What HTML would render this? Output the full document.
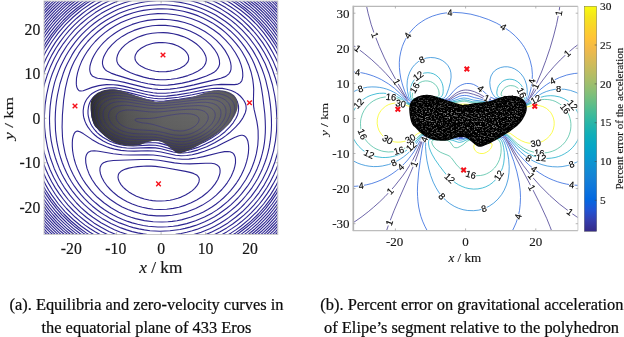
<!DOCTYPE html>
<html><head><meta charset="utf-8"><title>Figure</title><style>html,body{margin:0;padding:0;background:#fff}svg{display:block}</style></head><body>
<svg width="624" height="337" viewBox="0 0 624 337">
<defs>
<clipPath id="cl"><rect x="44.0" y="1.0" width="233.8" height="233.5"/></clipPath>
<clipPath id="cr"><rect x="353.3" y="6.3" width="224.6" height="224.3"/></clipPath>
<clipPath id="cb"><path d="M91.8,118.1 91.5,116.5 91.2,114.7 91,112.8 90.7,110.7 90.5,108.5 90.5,106.4 90.5,104.5 90.8,102.7 91.1,101.1 91.7,99.6 92.3,98.3 93.1,97 94.1,95.9 95.1,94.9 96.2,93.9 97.4,93.1 98.8,92.3 100.1,91.7 101.6,91 103.1,90.5 104.7,90.1 106.3,89.7 107.9,89.4 109.5,89.3 111.1,89.2 112.7,89.2 114.3,89.3 115.9,89.5 117.5,89.8 119.1,90.2 120.7,90.6 122.3,91 123.9,91.5 125.5,92.1 127.1,92.6 128.7,93.2 130.3,93.7 131.9,94.3 133.5,94.8 135.1,95.4 136.7,95.9 138.3,96.4 139.9,96.9 141.5,97.5 143.1,98 144.7,98.4 146.3,98.9 147.9,99.4 149.6,99.9 151.1,100.3 152.6,100.8 153.9,101.2 155.2,101.7 156.4,101.9 157.5,102 158.5,101.9 159.5,101.6 160.3,101.4 161.1,101.4 161.7,101.4 162.2,101.6 162.7,101.6 163.3,101.6 163.8,101.6 164.3,101.4 165,101.2 165.9,101 167,100.8 168.3,100.4 169.9,100.2 171.6,99.9 173.6,99.7 175.9,99.6 178.1,99.3 180.3,99.1 182.6,98.8 184.8,98.5 187,98.1 189.1,97.7 191.1,97.3 193,96.8 194.9,96.3 196.6,95.7 198.3,95.1 199.9,94.5 201.5,93.9 203.1,93.3 204.7,92.8 206.3,92.3 207.9,91.9 209.5,91.5 211.1,91.1 212.7,90.8 214.3,90.5 215.9,90.4 217.5,90.3 219.1,90.3 220.7,90.4 222.3,90.5 223.9,90.8 225.5,91.1 227,91.5 228.5,92 229.8,92.6 231.2,93.2 232.3,94 233.4,94.8 234.3,95.6 235.1,96.6 235.8,97.6 236.4,98.7 236.9,99.9 237.3,101.3 237.6,102.6 237.7,103.9 237.8,105.3 237.7,106.8 237.5,108.2 237.2,109.5 236.8,110.8 236.3,112.1 235.7,113.5 235,114.9 234.2,116.5 233.2,118.1 232.3,119.6 231.4,120.9 230.5,122.2 229.6,123.3 228.5,124.5 227.2,125.8 225.8,127.1 224,128.4 222.4,129.8 220.7,131 219.1,132.3 217.5,133.4 215.9,134.6 214.3,135.7 212.7,136.7 211.1,137.7 209.5,138.7 207.9,139.7 206.3,140.6 204.7,141.6 203.1,142.5 201.5,143.5 199.9,144.4 198.3,145.4 196.7,146.3 195.1,147.2 193.5,148 191.9,148.8 190.3,149.6 188.7,150.3 187.1,151 185.5,151.6 184.1,152.2 182.8,152.6 181.6,153 180.7,153.2 179.7,153.3 178.8,153.3 178,153.2 177.2,153 176.4,152.6 175.6,152.2 174.8,151.6 174,151 173.2,150.3 172.3,149.6 171.4,148.8 170.4,148 169.5,147.2 168.5,146.4 167.5,145.6 166.6,144.8 165.6,144.1 164.6,143.4 163.5,142.7 162.5,142.2 161.3,141.7 160,141.3 158.5,141 156.9,140.9 155.3,140.8 153.7,140.9 152.1,141.1 150.5,141.4 149,141.8 147.5,142.2 146.2,142.6 144.9,143.1 143.6,143.6 142.3,144 141.1,144.4 139.8,144.9 138.3,145.2 136.7,145.4 135,145.6 133,145.7 131.1,145.7 129.2,145.7 127.3,145.5 125.4,145.4 123.5,145.1 121.8,144.8 120.1,144.4 118.4,143.9 116.8,143.4 115.2,142.7 113.6,142 112,141.2 110.4,140.3 108.8,139.2 107.2,138.1 105.6,136.8 104.1,135.5 102.6,134.1 101.3,132.7 100,131.3 98.8,130 97.8,129 96.8,128.1 95.9,127.5 95.1,126.6 94.4,125.5 93.7,124.2 93.2,122.8 92.7,121.2 92.2,119.7Z"/></clipPath>
<linearGradient id="gb" x1="0" y1="0" x2="1" y2="0"><stop offset="0" stop-color="#2c2c2c"/><stop offset="0.08" stop-color="#424242"/><stop offset="0.25" stop-color="#585858"/><stop offset="0.5" stop-color="#656565"/><stop offset="0.8" stop-color="#6a6a6a"/><stop offset="0.95" stop-color="#626262"/><stop offset="1" stop-color="#575757"/></linearGradient>
<linearGradient id="gv" x1="0" y1="0" x2="0" y2="1"><stop offset="0" stop-color="#000" stop-opacity="0.1"/><stop offset="0.2" stop-color="#000" stop-opacity="0"/><stop offset="0.6" stop-color="#000" stop-opacity="0.06"/><stop offset="1" stop-color="#000" stop-opacity="0.42"/></linearGradient>
<linearGradient id="par" x1="0" y1="0" x2="0" y2="1"><stop offset="0.0000" stop-color="#f9fb0e"/><stop offset="0.0476" stop-color="#f5e41d"/><stop offset="0.0952" stop-color="#fad32a"/><stop offset="0.1429" stop-color="#ffc337"/><stop offset="0.1905" stop-color="#f1b94a"/><stop offset="0.2381" stop-color="#d9ba56"/><stop offset="0.2857" stop-color="#c0bc60"/><stop offset="0.3333" stop-color="#a5be6b"/><stop offset="0.3810" stop-color="#87bf77"/><stop offset="0.4286" stop-color="#65be86"/><stop offset="0.4762" stop-color="#42bb98"/><stop offset="0.5238" stop-color="#25b5a9"/><stop offset="0.5714" stop-color="#0faeb9"/><stop offset="0.6190" stop-color="#06a7c6"/><stop offset="0.6667" stop-color="#079ccf"/><stop offset="0.7143" stop-color="#108ed2"/><stop offset="0.7619" stop-color="#1481d6"/><stop offset="0.8095" stop-color="#0d75dc"/><stop offset="0.8571" stop-color="#0268e1"/><stop offset="0.9048" stop-color="#2053d4"/><stop offset="0.9524" stop-color="#353dad"/><stop offset="1.0000" stop-color="#352a87"/></linearGradient>
<pattern id="mesh" width="1.9" height="2.3" patternUnits="userSpaceOnUse" patternTransform="rotate(-38)"><rect x="0.5" y="0.6" width="0.8" height="1.0" fill="#fff" fill-opacity="0.75"/></pattern>
<filter id="bl" x="-20%%" y="-20%%" width="140%%" height="140%%"><feGaussianBlur stdDeviation="3.2"/></filter>
<mask id="mm" maskUnits="userSpaceOnUse" x="380" y="60" width="180" height="110"><g filter="url(#bl)"><path d="M411,118.3 410.7,117 410.5,115.6 410.3,114.1 410.1,112.5 410,110.7 409.9,109.1 410,107.5 410.2,106.2 410.4,104.9 410.9,103.7 411.4,102.6 412,101.7 412.8,100.8 413.6,100 414.5,99.2 415.4,98.6 416.4,98 417.5,97.4 418.7,97 419.9,96.6 421.1,96.2 422.4,95.9 423.7,95.7 424.9,95.6 426.2,95.5 427.4,95.5 428.7,95.6 430,95.8 431.2,96 432.5,96.3 433.8,96.6 435,97 436.3,97.4 437.5,97.8 438.8,98.2 440.1,98.6 441.3,99.1 442.6,99.5 443.8,100 445.1,100.4 446.4,100.8 447.6,101.2 448.9,101.6 450.1,102 451.4,102.4 452.7,102.8 453.9,103.2 455.2,103.6 456.5,103.9 457.7,104.3 458.9,104.7 459.9,105 460.9,105.3 461.9,105.5 462.8,105.6 463.6,105.5 464.3,105.3 465,105.2 465.6,105.1 466.1,105.1 466.5,105.3 466.9,105.3 467.3,105.3 467.7,105.3 468.1,105.1 468.7,105 469.4,104.8 470.3,104.6 471.3,104.4 472.5,104.2 473.9,104 475.5,103.8 477.2,103.7 479,103.5 480.8,103.3 482.5,103.1 484.3,102.8 486,102.5 487.7,102.2 489.2,101.9 490.8,101.5 492.2,101.1 493.6,100.7 494.9,100.2 496.2,99.7 497.4,99.2 498.7,98.7 500,98.3 501.2,98 502.5,97.6 503.8,97.3 505,97 506.3,96.8 507.5,96.6 508.8,96.4 510.1,96.4 511.3,96.4 512.6,96.4 513.8,96.6 515.1,96.8 516.4,97 517.6,97.3 518.7,97.7 519.8,98.2 520.8,98.7 521.7,99.3 522.6,99.9 523.3,100.6 523.9,101.3 524.5,102.1 525,103 525.4,104 525.7,105 525.9,106.1 526,107.1 526.1,108.2 526,109.4 525.9,110.5 525.6,111.5 525.3,112.6 524.9,113.6 524.4,114.7 523.9,115.8 523.2,117 522.5,118.3 521.7,119.5 521,120.5 520.3,121.5 519.6,122.4 518.8,123.3 517.7,124.3 516.6,125.4 515.2,126.4 513.9,127.5 512.6,128.5 511.3,129.5 510.1,130.4 508.8,131.3 507.5,132.1 506.3,133 505,133.7 503.8,134.5 502.5,135.3 501.2,136 500,136.8 498.7,137.5 497.4,138.3 496.2,139 494.9,139.8 493.7,140.5 492.4,141.2 491.1,141.9 489.9,142.5 488.6,143.1 487.4,143.7 486.1,144.2 484.8,144.7 483.7,145.2 482.7,145.5 481.8,145.8 481,146 480.3,146.1 479.6,146.1 478.9,146 478.3,145.8 477.7,145.5 477,145.2 476.4,144.7 475.8,144.2 475.1,143.7 474.4,143.1 473.7,142.5 473,141.9 472.2,141.2 471.4,140.6 470.7,140 469.9,139.3 469.1,138.8 468.3,138.2 467.5,137.7 466.7,137.3 465.7,136.9 464.7,136.6 463.6,136.4 462.3,136.2 461,136.2 459.8,136.3 458.5,136.4 457.2,136.7 456,137 454.9,137.3 453.8,137.6 452.8,138 451.8,138.4 450.8,138.7 449.8,139.1 448.8,139.4 447.6,139.7 446.4,139.9 445,140 443.5,140 442,140 440.5,140 439,139.9 437.4,139.8 436,139.6 434.6,139.3 433.2,139 432,138.6 430.7,138.2 429.4,137.7 428.2,137.1 426.9,136.5 425.6,135.8 424.4,135 423.1,134 421.8,133 420.7,132 419.5,130.9 418.4,129.8 417.4,128.7 416.5,127.7 415.7,126.9 414.9,126.2 414.2,125.7 413.6,125 413,124.2 412.5,123.1 412,122 411.6,120.8 411.3,119.5Z" fill="#fff" stroke="#000" stroke-width="8"/></g></mask>
<filter id="sp" filterUnits="userSpaceOnUse" x="400" y="80" width="150" height="80"><feTurbulence type="fractalNoise" baseFrequency="0.55 0.8" numOctaves="2" seed="7" result="n"/><feColorMatrix in="n" type="matrix" values="0 0 0 0 1  0 0 0 0 1  0 0 0 0 1  4 0 0 0 -2.02" result="w"/><feComposite in="w" in2="SourceGraphic" operator="in"/></filter>
<radialGradient id="meshfade" cx="0.5" cy="0.5" r="0.55"><stop offset="0" stop-color="#000" stop-opacity="0"/><stop offset="0.7" stop-color="#000" stop-opacity="0.35"/><stop offset="1" stop-color="#000" stop-opacity="1"/></radialGradient>
</defs>
<rect width="624" height="337" fill="#fff"/>
<g clip-path="url(#cl)" fill="none" stroke="#2d2591" stroke-width="1.12" stroke-linejoin="round">
<path d="M276.8,238.3 281,234.0 M40.9,233.9 45.4,238.4 M281.1,2.6 275.7,-2.8 M46.5,-2.9 40.9,2.7 M274.6,237.9 281.2,231.1 M40.9,231.2 47.6,238.0 M281.2,5.5 273.5,-2.4 M48.7,-2.4 40.9,5.4 M271.2,238.4 275.9,234 281.1,228.4 M41,228.4 45.4,233.1 50.9,238.4 M281.2,8.2 275.9,2.6 270.1,-3.0 M52.1,-3 46.3,2.6 41,8.2 M269,237.9 275.4,231.8 281.2,225.4 M40.9,225.5 46.7,231.8 53.2,238.0 M281.2,11.1 274.6,3.9 267.9,-2.4 M54.3,-2.4 47.6,3.9 40.9,11.1 M265.7,238.2 273.5,230.8 280.8,222.9 M40.9,222.5 48.5,230.7 56.5,238.3 M280.8,13.7 272.6,4.8 264.6,-2.7 M57.6,-2.7 48.7,5.7 40.9,14.2 M263.4,237.6 272.4,229.2 276.8,224.5 281.1,219.5 M40.9,219.5 45.4,224.6 49.8,229.3 58.7,237.7 M281.1,17.1 276.8,12 272.1,7 267.6,2.6 262.3,-2.1 M59.9,-2.1 54.6,2.6 50.1,7 45.4,12 41,17.1 M260.1,237.8 265.7,232.9 271.2,227.5 276.5,221.8 281.2,216.2 M40.9,216.2 45.6,221.8 51,227.6 56.4,232.9 62.1,237.9 M281.2,20.4 275.7,13.9 270.3,8.2 264.6,2.6 259,-2.2 M63.2,-2.3 57.6,2.6 51.8,8.2 46.5,13.8 40.9,20.4 M256.8,238.1 263.4,232.3 269.8,226.2 275.7,219.8 281.2,213.0 M40.9,213.1 46.5,219.9 52.3,226.2 58.7,232.4 65.4,238.1 M281.2,23.6 275.7,16.8 269,9.6 262.3,3.2 255.7,-2.5 M66.5,-2.5 59.9,3.2 53.2,9.5 46.5,16.7 40.9,23.5 M253.4,238.1 261,231.8 268,225.1 275.1,217.3 281.2,209.6 M281.2,27 274.6,18.6 267.9,11.4 260.1,3.9 252.3,-2.5 M69.9,-2.5 62.1,3.9 54.3,11.3 47.6,18.6 40.9,27.0 M40.9,209.7 47,217.3 54.1,225.1 61.1,231.8 68.8,238.2 M250.1,238.1 259,230.8 266.8,223.4 274.3,215.1 281.2,206.2 M281.1,30.4 274.3,21.5 270.4,17.1 266.2,12.6 257.9,4.7 249,-2.5 M73.2,-2.5 64.3,4.7 55.9,12.6 51.7,17.1 47.9,21.5 41,30.4 M40.9,206.2 47.8,215.1 55.4,223.5 63.2,230.9 72.1,238.2 M246.8,238 252,234 256.8,230 261.2,226 265.5,221.8 269.6,217.3 273.5,212.9 277,208.4 281,202.8 M281,33.8 277,28.2 273.5,23.7 269,18.5 264.6,13.8 260.1,9.5 255.7,5.5 250.8,1.5 245.6,-2.4 M76.5,-2.4 71.4,1.5 66.5,5.4 62.1,9.4 57.6,13.8 53.2,18.5 48.7,23.7 44.4,29.3 40.9,34.1 M40.9,202.6 44.3,207.3 48.6,212.9 52.5,217.3 56.6,221.8 61,226.1 65.4,230.1 70,234 75.4,238.1 M243.4,237.9 249,233.7 254.6,229.2 260.1,224.1 264.6,219.7 269,214.8 273.4,209.5 277.6,204 281.2,198.6 M281.2,38.1 277.6,32.6 273.4,27.1 268.8,21.5 263.7,15.9 259,11.3 253.4,6.3 247.9,1.8 242.3,-2.2 M79.9,-2.2 74.3,1.8 68.8,6.3 63.2,11.3 58.5,15.9 53.3,21.5 48.7,27.1 44.6,32.6 40.9,37.9 M40.9,198.8 44.5,204 48.7,209.6 53.2,215 57.6,219.8 63,225.1 67.6,229.3 73.2,233.8 78.8,237.9 M240.1,237.6 246.6,232.9 252.2,228.4 257.9,223.3 262.8,218.4 267.9,212.9 272.4,207.3 276.8,201.4 281,195.1 M280.9,41.5 276.8,35.3 272.4,29.2 267,22.6 261.8,17.1 256.1,11.5 250.1,6.3 243.9,1.5 237.9,-2.7 M84.3,-2.7 78.3,1.5 72.1,6.3 66.1,11.5 60.3,17.1 55.2,22.6 49.8,29.1 45.4,35.2 40.9,42.0 M40.9,194.8 45.4,201.6 49.6,207.3 54.3,213 59.2,218.4 64.3,223.4 69.9,228.4 75.4,232.9 82.1,237.7 M235.6,237.9 242.3,233.4 249,228.2 255.1,222.9 261.2,216.9 266.9,210.6 272.2,204 276.9,197.3 281,190.6 M280.9,46 276.1,38.2 271.3,31.5 265.9,24.8 260.9,19.3 255.3,13.7 248.9,8.2 241.7,2.6 234.5,-2.2 M87.7,-2.2 80.5,2.6 73.2,8.2 66.9,13.7 61.2,19.3 55.4,25.8 50,32.6 45.3,39.3 40.9,46.4 M40.9,190.4 45.2,197.3 49.9,204 55.2,210.6 61,217 66.9,222.9 73.2,228.4 79.9,233.5 86.6,238.0 M231.2,238 239,233 246.5,227.3 253.4,221.4 259.8,215.1 265.8,208.4 271.2,201.4 276.3,193.9 280.9,186.2 M281.2,51.4 276.8,43.6 271.2,35.3 265.7,28.1 259,20.6 252.3,14.1 245.4,8.2 237.9,2.6 230.1,-2.3 M92.1,-2.4 84.3,2.6 76.8,8.2 69.9,14 63.2,20.5 57.3,27.1 51.2,34.9 45.9,42.6 40.9,51.1 M40.9,185.8 45.7,193.9 51,201.6 56.3,208.4 62.2,215.1 68.8,221.5 75.5,227.3 83.2,233.1 91,238.1 M227.8,237.8 235.8,232.9 243.5,227.3 251.2,220.9 258.3,214 265.2,206.2 271.1,198.4 276.1,190.6 281.1,181.7 M280.9,54.9 276,46 270.2,37.1 264.2,29.3 257.9,22.1 251.2,15.6 243.4,9 235.6,3.3 226.7,-2.1 M95.5,-2.1 86.6,3.3 78.8,9 71,15.6 63.8,22.6 57,30.4 51.1,38.2 45.4,47.1 40.9,55.3 M40.9,181.6 45.4,189.7 51,198.4 56.9,206.2 63.8,214 71,221 78.5,227.3 86.2,232.9 94.3,238.0 M222.3,238 231.2,232.9 236.2,229.6 240.8,226.2 249,219.4 256.8,211.8 263.6,204 270.2,195.1 273.5,189.9 276.3,185.1 281.2,175.1 M281,61.6 276.1,51.5 273.5,46.9 270.1,41.7 263.6,32.6 256.8,24.7 249,17 244.5,13.2 240.1,9.7 231.2,3.5 226.1,0.4 221.2,-2.3 M101,-2.3 96.1,0.4 91,3.5 82.1,9.6 77.7,13.2 73.2,17 65.4,24.7 58.5,32.6 52,41.5 48.7,46.7 45.9,51.5 40.9,61.5 M40.9,175.5 45.8,185.1 48.7,190.2 51.9,195.1 58.4,204 65.2,211.8 73.2,219.5 81,226 89.9,232.3 98.8,237.5 M176.7,129.6 172.6,128.3 170.1,127.2 166.4,125 165.3,123.9 164.7,122.8 165,121.6 166.1,120.5 168,119.4 170.7,118.3 174,117.2 178.3,116.1 184.2,115 188.9,114.5 193.4,114.4 196.7,114.9 199.6,116.1 200.7,117.2 201.1,118.3 201.2,119.4 201,120.5 200.5,121.6 198.9,123.7 197.6,125 194.3,127.2 190,129.1 185.6,130.1 181.1,130.2 176.7,129.6 M128.8,124 126.6,123.4 124.4,122.4 123.2,121.6 122.2,120.6 121.3,119.4 120.9,118.3 121,117.2 121.6,116.1 123,115 124.4,114.5 126.6,114.2 128.8,114.3 132.2,114.8 134.4,115.4 139.1,117.2 141.1,118.3 142.5,119.4 143.2,120.5 142.9,121.6 141.4,122.8 138,123.9 133.3,124.4 128.8,124.0 M215.6,237.8 221.2,235 226.7,231.9 232.2,228.4 237,225.1 241.3,221.8 246.5,217.3 251.2,212.9 255.5,208.4 259.4,204 263.4,198.9 267,193.9 270.1,189.1 273.1,183.9 276.1,178.4 278.6,172.8 280.9,167.2 M280.9,70.5 278.3,63.8 275.8,58.2 272.9,52.7 269.7,47.1 266.1,41.5 262.3,36.4 258.5,31.5 254.6,27.1 250.2,22.6 245.5,18.2 240.2,13.7 235.8,10.4 230.9,7 225.6,3.7 220.1,0.7 214.5,-2.1 M107.7,-2.1 102.1,0.7 96.6,3.7 91.3,7 86.4,10.4 82,13.7 76.7,18.2 71.9,22.6 67.6,27.1 63.2,32.1 59.2,37.1 55.4,42.4 52.4,47.1 49.1,52.7 46.2,58.2 43.2,64.8 40.9,70.3 M40.9,166.8 43.4,172.8 46,178.4 48.9,183.9 52.1,189.3 55.4,194.5 58.7,199.1 62.6,204 66.5,208.5 70.8,212.9 75.4,217.3 79.9,221.1 85,225.1 89.9,228.5 95.5,232 101,235.1 106.6,237.9 M176.7,135 171.4,133.9 161.1,131 155.5,130.1 150,129.9 138.8,130.7 133.3,130.8 127.7,130.3 123.3,129.2 120.8,128.3 117.7,126.7 115.3,125 113,122.8 111.5,120.5 110.6,118.3 110.2,116.1 110.5,113.8 111.5,111.6 112.4,110.5 113.8,109.4 116.6,108.1 118.8,107.6 121,107.3 125.5,107.4 129.9,108 136.2,109.4 147.8,112.4 152.2,113.2 156.7,113.6 160,113.6 164.4,113.3 184.5,110 193.4,109 200,108.7 203.4,109 205.6,109.5 208.2,110.5 210.1,111.9 211.2,113.8 211.6,116.1 211.2,118.3 210.2,120.5 207.9,123.9 205.7,126.1 202.9,128.3 199.5,130.5 195.6,132.5 192,133.9 187.8,134.9 184.5,135.4 181.1,135.5 176.7,135.0 M207.8,237.6 213.5,235.1 220.1,231.8 226.7,227.9 232.7,224 238.6,219.5 243.9,215.1 249,210.3 253.9,205.1 258.6,199.5 262.7,193.9 266.8,187.8 270.3,181.7 273.7,175 276.6,168.4 279.1,161.7 281.1,155.0 M280.9,82.7 278.9,76 276.1,68.2 273.3,61.6 270,54.9 266.8,49.2 262.6,42.6 257.9,36.3 253.4,31 248.7,26 242.8,20.4 237.5,15.9 231.5,11.5 225.6,7.6 218.9,3.8 212.3,0.6 205.6,-2.3 M116.6,-2.2 109.9,0.6 103.2,3.8 97.6,7 91,11.3 84.7,15.9 79.3,20.4 74.3,25.1 69.2,30.4 64.5,36 59.9,42.1 55.8,48.2 52.1,54.6 48.6,61.6 45.7,68.2 43.2,74.9 40.9,82.0 M40.9,155.3 42.9,161.7 45.4,168.4 48.3,175 51.7,181.7 55.4,188.1 59.3,193.9 63.5,199.5 68.1,205.1 73.2,210.5 78.1,215.1 83.4,219.5 89.3,224 95.5,228.1 101.8,231.8 108.5,235.1 114.4,237.7 M174.4,138.5 162.2,135.3 156.7,134.3 151.1,134.1 136.6,134.8 131.1,134.7 127.7,134.4 124.4,133.8 118.8,132.1 115.5,130.5 112,128.3 109.4,126.1 106.7,122.8 105,119.4 104.1,116.1 104.2,112.7 104.8,110.5 105.5,109.1 107,107.2 108.2,106.1 109.9,105 112.1,104 114.4,103.4 118.8,102.9 123.3,103 127.7,103.6 134.1,104.9 148.9,108.4 153.3,109.2 157.8,109.5 162.2,109.5 166.7,109.1 191.1,105.5 201.2,104.4 204.5,104.3 207.8,104.5 210.5,104.9 213.4,105.9 215.6,107.2 216.8,108.3 217.7,109.4 218.6,111.6 218.7,112.7 218.7,115 217.7,118.3 215.8,121.6 213.2,125 209.6,128.3 205.6,131.3 201.2,134 196.7,136.1 191.1,138 187.8,138.8 183.3,139.3 178.9,139.2 174.4,138.5 M196.7,237.8 204.5,235.1 212.3,231.8 220.1,227.8 228,222.9 235.6,217.3 242.2,211.8 247.9,206.2 253.8,199.5 259,192.8 264.1,185.1 268.4,177.3 272,169.5 275,161.7 277.6,152.8 279.6,143.9 280.9,135.0 M280.8,104.9 279.6,96 277.8,87.1 275.4,78.2 272.3,69.3 268.5,60.4 264.4,52.7 259.5,44.9 254.6,38 249,31.5 242.4,24.8 235.6,19 228.5,13.7 221.2,9.1 213.2,4.8 204.5,1 195.6,-2.0 M126.6,-2 118.8,0.6 111,3.9 103.2,7.8 95.3,12.6 87.7,18.1 81,23.7 74.3,30.2 68.8,36.5 63.2,43.8 58.7,50.6 54.3,58.5 50.3,67.1 47.3,74.9 44.5,83.8 42.4,92.7 40.9,101.6 M41,136.1 42.2,143.9 44.3,152.8 47,161.7 50,169.5 53.6,177.3 57.9,185.1 63,192.8 68.1,199.5 74.1,206.2 79.9,211.9 86.6,217.5 93.9,222.9 101.1,227.3 108.8,231.4 116.6,234.8 124.4,237.6 M174.4,141.7 162.2,138.5 156.7,137.4 151.1,137.2 136.6,138 129.9,137.8 125.5,137.3 122.2,136.6 118.8,135.7 115.5,134.4 111,132 107.6,129.4 104.2,126.1 101.9,122.8 100.8,120.5 100,118.3 99.3,115 99.4,111.6 100.3,108.3 101,106.8 102.3,104.9 103.4,103.8 105.5,102.3 107.7,101.1 109.9,100.3 112.1,99.7 115.5,99.3 119.9,99.4 125.5,100 132.2,101.4 148.9,105.3 154.4,106.2 158.9,106.5 163.3,106.4 171.1,105.5 180,104.3 197.8,101.6 204.5,100.8 208.9,100.6 212.3,100.8 215.6,101.5 217.8,102.2 220.6,103.8 222.8,106.1 223.5,107.2 224.3,109.4 224.5,112.7 223.7,116.1 222.8,118.3 221.6,120.5 218.3,125 215,128.3 210.8,131.7 205.6,135.1 199.2,138.3 193.6,140.6 188.9,141.8 184.5,142.4 180,142.4 174.4,141.7 M181.1,237.7 191.1,235.4 201.2,232.3 210.3,228.4 214.8,226.2 220.1,223.3 224.5,220.5 229,217.4 236.8,211.3 241.1,207.3 244.4,204 251.2,196.3 257,188.4 262.5,179.5 266.9,170.6 269,165.3 270.7,160.6 273.6,150.6 275.5,140.6 276.6,130.5 276.9,119.4 276.3,108.3 275.7,102.2 274.8,96 272.4,84.5 269.1,73.8 265.2,63.8 260.7,54.9 258.1,50.4 255.2,46 249.4,38.2 245.6,33.8 242.4,30.4 235.2,23.7 231.1,20.4 226.7,17.2 222.3,14.3 217.7,11.5 213.4,9.2 207.8,6.6 203.4,4.7 197.8,2.7 187.8,-0.2 177.8,-2.1 M144.4,-2.1 134.4,-0.2 124.4,2.7 118.8,4.7 114.4,6.6 105.5,11 101,13.6 96.6,16.5 88.3,22.6 80.9,29.3 77.6,32.6 73.6,37.1 70,41.5 66.7,46 61.1,54.9 56.5,63.8 52.3,73.8 50.4,79.4 48.8,84.9 46.6,94.9 45.1,104.9 44.4,116.1 44.6,127.2 45.6,137.2 47.6,148 50.5,158.3 54.2,168.4 56.5,173.6 58.7,178 61.4,182.8 64.2,187.3 69.9,195.2 76.5,203 80.8,207.3 84.3,210.5 88.4,214 92.8,217.3 101,222.8 109.9,227.6 114.4,229.7 119.9,232 129.9,235.2 140,237.5 M176.7,145.1 171.3,143.9 161.1,141 155.5,140 150,140 134.4,140.9 129.9,140.8 125.5,140.3 122.2,139.7 118.8,138.8 115.5,137.7 112.1,136.2 107.7,133.6 103.8,130.5 100.7,127.2 99,125 97.7,122.7 96,118.3 95.4,116.1 95.2,113.8 95.2,111.6 95.5,109.4 96,107.2 97,104.9 98.5,102.7 99.9,101.2 102.1,99.5 104.3,98.3 106.6,97.4 108.8,96.7 111,96.3 114.4,96 118.8,96.1 124.4,96.9 131.1,98.3 147.8,102.3 154.4,103.4 158.9,103.8 164.4,103.6 177.8,102 202.3,97.9 207.8,97.3 212.3,97.1 216.7,97.5 220.1,98.3 222.8,99.4 224.6,100.5 226,101.6 227.1,102.7 228.5,104.9 229,106.1 229.5,108.3 229.6,111.6 228.9,115 228,117.2 226.8,119.4 223.7,123.9 219.7,128.3 215.6,131.9 209.5,136.1 203.4,139.5 196.7,142.4 192.2,144 186.7,145.1 181.1,145.5 176.7,145.1 M154,235.1 158.9,235.3 164.4,235.3 170,234.9 175.6,234.4 181.1,233.5 186.7,232.3 192.2,230.8 196.7,229.4 202.3,227.3 206.7,225.4 212,222.9 216.7,220.3 221.6,217.3 226.4,214 230.7,210.6 234.7,207.3 238.3,204 242.3,199.8 245.6,196 249.1,191.7 252.3,187.3 255.2,182.8 257.9,178.2 260.6,172.8 262.6,168.4 264.8,162.8 266.7,157.2 267.9,152.8 269.2,147.2 270.1,141.7 270.8,136.1 271.3,130.5 271.5,125 271.4,118.3 271,111.6 270.4,104.9 269.5,98.3 268.4,91.6 265.7,80.1 264.1,74.9 262.1,69.3 260.1,64.5 257.7,59.3 255.3,54.9 252.7,50.4 249.7,46 246.4,41.5 242.6,37.1 238.5,32.6 234.5,28.9 230.1,25 225.5,21.5 220.6,18.2 215.6,15.1 211.2,12.7 206.3,10.4 201,8.2 195.6,6.2 190,4.5 184.5,3.2 178.9,2.1 173.3,1.4 167.8,0.9 162.2,0.7 156.7,0.8 151.1,1.2 145.5,1.8 140,2.7 134.4,4 128.8,5.5 124.2,7 118.8,9.1 113.5,11.5 108.8,13.9 103.4,17.1 98.8,20 94.3,23.3 89.9,26.9 86,30.4 82.1,34.2 78.5,38.2 74.8,42.6 71.5,47.1 68.5,51.5 65.8,56 63.2,60.9 60.7,66 58.4,71.6 56.5,76.7 54.6,82.7 53.2,88.3 52,93.8 51,99.9 50.2,106.1 49.8,111.6 49.5,118.3 49.6,123.9 49.9,129.4 50.4,135 51.2,140.6 52.3,146.1 53.6,151.7 55.2,157.2 57.1,162.8 59.3,168.4 61.8,173.9 64.2,178.4 66.7,182.8 69.9,187.6 72.8,191.7 76.4,196.2 80.3,200.6 84.3,204.7 88.5,208.4 92.5,211.8 97,215.1 102,218.4 106.6,221.1 111,223.5 116.6,226.1 121,227.9 126.6,229.9 132.2,231.6 137.7,232.9 143.3,233.9 148.9,234.7 154,235.1 M174.4,147.4 162.1,143.9 158.9,143.1 155.5,142.7 148.9,142.7 134.4,143.5 128.8,143.4 124.4,142.9 119.9,142 115.5,140.7 112.1,139.4 108.8,137.7 104.4,134.9 99.9,131.1 96.6,127.2 95.1,125 93.9,122.8 92.7,119.4 92,117.2 91.5,112.7 91.6,109.4 92,107.2 92.7,104.9 93.7,102.7 95.1,100.5 96.6,99 98.8,97.2 100.7,96 103.2,94.9 106.6,93.8 108.8,93.4 112.1,93 117.7,93.2 123.3,93.9 132.2,95.9 146.6,99.5 154.4,100.8 158.9,101.2 164.4,101.1 178.9,99.4 193.4,97 204.5,94.8 211.2,94 215.6,93.9 220.1,94.3 223.4,95.2 226.7,96.7 229,98.1 230.5,99.4 231.5,100.5 232.9,102.7 234,106.1 234.3,108.3 234.2,110.5 233.9,112.7 233.2,115 232.3,117.2 231.1,119.4 228,123.9 222.9,129.4 217.8,133.9 211.1,138.3 204.5,141.9 196.7,145.3 193.4,146.4 190,147.3 184.5,148.1 180,148.2 174.4,147.4 M150,230.7 160,231.2 170,230.8 180,229.5 185,228.4 190,227.1 195.6,225.4 200,223.7 204.7,221.8 209.3,219.5 214.5,216.7 218.8,214 226.7,208.3 230.6,205.1 234.5,201.4 237.9,198 241.5,193.9 247.5,186.2 250.4,181.7 253,177.3 255.3,172.8 257.3,168.4 259.1,163.9 261,158.3 262.3,153.4 263.5,148.3 264.4,142.8 264.9,138.3 265.3,132.8 265.4,127.2 265.2,120.5 264.8,113.8 262.7,96 261.5,88.3 260.4,82.7 259,77.3 257.6,72.7 254.2,63.8 252.1,59.3 249.8,54.9 244.8,47.1 241.4,42.6 237.9,38.4 234.5,34.9 230.1,30.7 225.8,27.1 221.3,23.7 216.7,20.7 212.6,18.2 207.8,15.7 202.3,13.1 197.8,11.3 192.2,9.4 187.8,8.1 182.2,6.8 176.7,5.9 171.1,5.2 165.5,4.8 160,4.7 150,5.3 144.4,6 139,7 134.4,8.2 128.8,9.8 123.9,11.5 118.8,13.6 114.4,15.7 109.7,18.2 105.5,20.7 100.9,23.7 96.4,27.1 92.1,30.7 87.7,34.8 84.5,38.2 81,42.2 78,46 74.8,50.4 72,54.9 67.3,63.8 65.2,68.2 63.1,73.8 59.9,84 57.5,94.9 56.5,100.9 55.8,107.2 55.4,112.7 55.2,119.4 55.5,130.5 56.1,136.1 56.8,141.7 57.9,147.2 59.2,152.8 60.8,158.3 62.3,162.8 64.3,167.8 66.6,172.8 68.9,177.3 71.5,181.7 74.4,186.2 77.7,190.6 81,194.7 84.3,198.4 88.8,202.8 92.5,206.2 96.6,209.5 101,212.7 105.5,215.6 109.9,218.2 114.7,220.7 119.6,222.9 128.8,226.3 133.3,227.6 138.8,228.9 144.4,229.9 150,230.7 M178.9,150.6 173.3,149.6 161.1,146.2 155.5,145.2 148.9,145.1 137.7,145.8 133.3,145.9 127.7,145.7 123.3,145.2 118.8,144.3 113.3,142.6 109.9,141.2 105.5,138.8 102.9,137.2 99.9,135 97.4,132.8 95.3,130.5 93.5,128.3 92,126.1 90.8,123.9 89.4,120.5 88.3,116.1 88,113.8 88,110.5 88.4,107.2 88.9,104.9 89.7,102.7 90.8,100.5 92.4,98.3 94.3,96.3 96.6,94.6 98.8,93.4 102.1,92.1 105.5,91.1 107.7,90.7 111,90.4 115.5,90.4 121,91.1 127.7,92.4 147,97.2 153.4,98.3 158.9,98.8 165.5,98.6 178.5,97.2 192.2,94.8 204.5,92.2 214.5,91 218.9,91 222.3,91.5 226.6,92.7 230.1,94.2 233.4,96.5 235.2,98.3 236.1,99.4 237.3,101.6 238,103.8 238.5,106.1 238.6,108.3 238.5,110.5 238.1,112.7 237.5,115 236,118.3 233.2,122.8 229.6,127.2 225.1,131.7 219.5,136.1 212.3,140.7 205.6,144.1 197.8,147.4 191.1,149.5 187.8,150.2 184.5,150.6 181.1,150.7 178.9,150.6 M148.2,226.2 157.8,227 162.2,227 167.8,226.8 173.3,226.2 177.8,225.6 186.7,223.6 195.6,220.8 204.5,217.1 212.3,212.9 216.7,210.1 220.7,207.3 227.8,201.4 234.5,194.8 237.9,190.9 240.7,187.3 245.9,179.5 250.1,171.7 252,167.2 253.7,162.8 255.1,158.3 256.3,153.9 257.1,149.4 257.8,145 258.2,138.3 258.1,130.5 257.6,126.1 256.8,121.1 254.1,109.4 253.6,106.1 253.4,101.6 253.7,89.4 253.4,84.9 252.7,79.4 251.2,72.5 248.7,64.9 245.7,58.2 241.9,51.5 239,47.3 236.3,43.8 232.4,39.3 229,35.8 225.6,32.6 221.2,29 217,26 212.3,22.9 207.8,20.4 203.4,18.2 198.3,15.9 193.4,14.1 188.5,12.6 183.3,11.3 177.8,10.2 172.2,9.4 167.8,9 162.2,8.8 157.8,8.9 152.2,9.2 143.3,10.4 138,11.5 133.3,12.8 124,15.9 118.9,18.2 114.5,20.4 109.9,23 105.5,25.8 98,31.5 94.2,34.9 90.8,38.2 87.7,41.5 84.3,45.6 81.5,49.3 78.8,53.4 74.2,61.6 72.1,66 70.3,70.5 67.5,79.4 65.4,88.3 63.6,100.5 62.4,115 62.1,127.2 62.5,137.2 63.1,142.8 63.9,147.2 65,152.8 66.2,157.2 69.3,166.1 71.2,170.6 73.4,175 75.9,179.5 78.7,183.9 81.9,188.4 85.4,192.8 88.5,196.2 92.1,199.8 95.5,202.8 99.9,206.5 104.1,209.5 108.8,212.5 113.3,215.1 117.7,217.3 122.7,219.5 127.7,221.4 132.2,222.9 137.7,224.3 143.3,225.5 148.2,226.2 M177.8,152.8 173.3,152 161.1,148.8 155.5,147.9 148.9,147.6 132.2,148.2 126.6,148 122.2,147.5 117.7,146.6 112.1,145 107.7,143.2 103.2,141 97.5,137.2 94.8,135 92.5,132.8 90.5,130.5 88,127.2 86.1,123.9 85.1,121.6 84,118.3 83.5,116.1 83.2,112.7 83.2,110.5 83.8,106.1 84.9,102.7 86,100.5 87.4,98.3 89.9,95.4 92.1,93.5 95.5,91.4 98.8,90 102.1,89 106.6,88.1 109.9,87.8 115.5,87.9 121,88.7 127.7,90 147.8,94.8 154.4,95.9 158.9,96.3 166.7,96.1 177.2,94.9 190.2,92.7 205.6,89.5 212.3,88.5 216.7,88.2 222.3,88.4 226.7,89.2 231.2,90.5 235.6,92.6 237.5,93.8 240.2,96 242.3,98.3 243.9,100.5 245.1,102.7 245.9,104.9 246.2,108.3 245.9,110.5 245.3,112.7 243.2,117.2 241.9,119.4 239.4,122.8 235.5,127.2 229.5,132.8 225.6,135.9 222.3,138.2 214.7,142.8 206.7,146.7 197.8,150.1 191.1,151.9 187.8,152.5 183.3,153 180,153 177.8,152.8 M153.2,221.8 162.2,222 167.8,221.8 172.2,221.4 177,220.7 182.2,219.6 191.1,217 198.9,214 203.4,211.9 207.8,209.4 212.3,206.7 216.2,204 220.1,200.9 223.4,198 227.6,193.9 230.6,190.6 233.4,187.2 236.6,182.8 239,179.1 241.3,175 243.4,170.6 245.2,166.1 246.6,161.7 247.7,157.2 248.4,152.8 248.7,148.3 248.5,145 247.9,141.3 246.8,138.5 245.6,136.9 244.5,136 243.4,135.5 242.3,135.3 241.2,135.3 239,135.7 234.5,137.4 223.4,143.1 216.7,146.4 211.2,148.8 204.5,151.3 197.8,153.4 192.2,154.7 186.7,155.5 181.1,155.7 175.6,155.2 161.1,152 154.4,151 147.8,150.7 134.4,151.1 127.7,151 121,150.4 114.4,149.1 109.9,147.9 106.6,146.8 98.8,143.4 91.8,139.4 83.2,133.6 79.9,131.7 77.7,131.1 76.5,131.3 75.4,131.9 74.3,133.3 73.2,136.1 72.5,139.4 72.3,142.8 72.3,146.1 72.6,150.6 73.3,155 74.3,159.5 75.6,163.9 77.3,168.4 81,176.2 83.2,180 85.8,183.9 91,190.7 94,193.9 97.4,197.3 103.9,202.8 111,207.8 118.8,212.2 126.6,215.7 131.1,217.3 135.5,218.6 144.4,220.6 153.2,221.8 M153,92.7 156.7,93.1 161.1,93.3 165.5,93.2 171.1,92.7 178.9,91.7 185.6,90.6 204.5,86.6 213.4,85 221.2,84.4 234.5,84.6 237.9,84.1 239,83.6 240.1,82.9 241.2,81.7 241.9,80.5 242.5,78.2 242.8,76 242.7,72.7 242.3,69.3 241.1,64.9 239,59.3 235.4,52.7 230.8,46 225.6,40.1 220.1,34.8 213.4,29.7 206.7,25.5 198.8,21.5 191.1,18.5 183.3,16.2 175.6,14.7 166.7,13.7 157.8,13.6 150,14.2 141.1,15.7 133.3,17.8 126.6,20.2 121.1,22.6 115.5,25.6 109.9,29 104.9,32.6 99.6,37.1 95.2,41.5 91.3,46 87.7,50.8 84.4,56 81.5,61.6 79.3,67.1 77.6,72.7 76.5,78.2 76.3,82.7 76.4,84.9 76.8,87.1 77.7,89.2 78.8,90.4 79.9,90.9 81,91 83.2,90.7 92.1,87.4 98.8,85.6 102.1,85.1 106.6,84.6 113.3,84.7 117.7,85.1 123.3,86.1 144.4,91.2 153,92.7 M148,215.1 156.7,215.9 164.4,215.9 172.2,215.2 180,213.8 187.8,211.6 195.6,208.5 202.4,205.1 209.4,200.6 212.4,198.4 216.3,195.1 221.9,189.5 224.7,186.2 227.2,182.8 229.3,179.5 231.2,176.2 232.7,172.8 234,169.5 234.9,166.1 235.5,162.8 235.5,159.5 235.2,157.2 234.5,155.4 233.6,153.9 232.3,152.7 230.1,151.8 227.8,151.5 224.5,151.6 218.9,152.7 203.4,156.6 196.7,158 188.9,159.1 182.2,159.3 175.6,158.8 161.1,156 153.3,155 146.6,154.8 129.9,155 122.2,154.8 113.3,153.8 98.8,151.2 94.3,150.7 91,151 88.8,151.9 87.7,152.9 86.6,154.5 86,156.1 85.6,158.3 85.8,162.8 87,168.4 89.1,173.9 92,179.5 95.8,185.1 100.4,190.6 104.9,195.1 110.3,199.5 116.6,203.8 122.2,206.9 127.9,209.5 134.4,211.9 141.1,213.8 148,215.1 M158,89.4 163.3,89.5 170,89.1 176.7,88.3 183.6,87.1 193.9,84.9 216.5,79.4 220.7,78.2 224.5,76.9 226.7,75.7 228.9,73.8 230.3,71.6 231,69.3 231.1,66 230.6,62.7 229.6,59.3 228.2,56 225,50.4 221.2,45.4 216.5,40.4 211.2,35.9 204.9,31.5 198.9,28.2 191.4,24.8 184.5,22.5 177.8,20.9 170,19.7 162.2,19.3 154.4,19.6 147.5,20.4 140,22 132.2,24.4 125.5,27.2 121.3,29.3 117.5,31.5 114.1,33.8 109.9,36.9 107,39.3 103.5,42.6 100.5,46 97.9,49.3 95.6,52.7 93.7,56 92.1,59.3 90.9,62.7 90,66 89.7,69.3 90,71.6 90.7,73.8 92.1,75.7 93.2,76.6 95.5,77.6 97.6,78.2 112.1,80.1 117.7,81 124.4,82.4 145.5,87.6 152.2,88.8 158,89.4 M147.6,208.4 153.3,209.2 160,209.5 166.7,209.2 173.3,208.4 178.9,207.2 185.6,205.1 191.2,202.8 196.7,200 202.3,196.5 206.9,192.8 211.5,188.4 215.1,183.9 217.8,179.5 219.5,175 220,172.8 220.1,170.6 219.8,168.4 219.3,167.2 218.5,166.1 216.7,164.7 214.5,163.8 211.2,163.3 205.6,163.2 190,163.9 182.2,163.7 174.4,162.9 158.9,160.3 150,159.5 141.1,159.5 113.3,160.5 107.7,161.3 105.5,161.9 103.5,162.8 102.1,163.9 101.2,165 100.2,167.2 100,168.4 99.9,170.6 100.5,173.9 101.7,177.3 104.1,181.7 107.3,186.2 110.3,189.5 113.8,192.8 118,196.2 123.1,199.5 127.2,201.7 132.2,204 137.7,206 142.3,207.3 147.6,208.4 M155.5,84.9 161.1,85.3 167.8,85.1 174.4,84.4 182.2,83.1 188.8,81.6 196.7,79.4 206.4,76 211.3,73.8 214.5,71.9 216.2,70.5 218,68.2 219.1,66 219.6,63.8 219.4,60.4 218.6,57.1 217.2,53.8 214.4,49.3 210.7,44.9 205.8,40.4 201.3,37.1 195.7,33.8 190,31 184.5,29 177.8,27.1 171.2,26 165.5,25.4 158.9,25.3 152.2,25.8 145.5,27 140,28.4 134,30.4 127.7,33.2 122.2,36.4 116.6,40.4 111.8,44.9 107.7,49.7 105.8,52.7 104.6,54.9 103.6,57.1 102.9,59.3 102.5,61.6 102.5,63.8 103,66 103.4,67.1 105,69.3 106.2,70.5 107.9,71.6 111,73.1 115.9,74.9 130.5,79.4 141.1,82.3 147.9,83.8 155.5,84.9 M152.6,200.6 156.7,201 161.1,201 165.5,200.8 170,200.2 173.4,199.5 177.8,198.3 181.1,197.1 185.5,195.1 189.2,192.8 192.3,190.6 194.7,188.4 196.6,186.2 198.1,183.9 199,181.7 199.3,179.5 199.1,178.4 198.7,177.3 197.8,176.1 196.7,175 195.6,174.4 193.4,173.4 190,172.4 185.6,171.4 165.5,167.7 155.5,166.4 151.1,166.1 146.6,166 137.7,166.6 133.1,167.2 128.8,168.1 125.5,169.1 123.3,170 121,171.3 119.4,172.8 118.7,173.9 118.3,175 118,177.3 118.4,179.5 119.3,181.7 121,184.6 123.3,187.3 125.7,189.5 128.8,191.9 132.2,194 136.4,196.2 140,197.6 144.4,199 148.9,200 152.6,200.6 M155,79.4 160,79.8 165.5,79.7 171.1,79.3 176.7,78.5 182.6,77.1 187.8,75.6 192.6,73.8 197.2,71.6 200,69.8 202.3,68.1 204.1,66 205.6,63.4 206.3,60.4 206.2,58.2 205.7,56 204.2,52.7 201.9,49.3 198.9,46.1 196.2,43.8 192.2,41 187.8,38.6 183.3,36.6 178.1,34.9 173.3,33.7 167.8,32.9 163.3,32.6 157.8,32.7 152.2,33.2 146.6,34.3 142.2,35.6 137.7,37.2 133.3,39.4 128.8,42.1 125.1,44.9 121.8,48.2 119.2,51.5 117.6,54.9 116.8,58.2 116.8,60.4 117,61.6 117.9,63.8 119.6,66 122.2,68.2 125.9,70.5 130.6,72.7 136.4,74.9 143.6,77.1 148.9,78.4 155,79.4 M158.8,71.6 162.2,71.7 166.3,71.6 170,71.1 173.3,70.5 177.2,69.3 180,68.2 183.9,66 185.6,64.6 187.3,62.7 188,61.6 188.7,59.3 188.7,58.2 188.4,56 187.8,54.5 186.7,52.7 184.7,50.4 183.3,49.2 181.1,47.7 178,46 175.3,44.9 172.2,43.9 168.9,43.2 165.5,42.7 162.2,42.5 158.9,42.6 155.5,42.9 152.2,43.5 146.6,45.3 143.3,46.9 141.1,48.2 138.8,50.1 137.4,51.5 136.6,52.7 135.4,54.9 134.9,57.1 135.1,59.3 135.5,60.5 136.9,62.7 138.8,64.6 140.8,66 145.5,68.5 147.9,69.3 151.8,70.5 155.5,71.2 158.8,71.6"/>
</g>
<path d="M91.8,118.1 91.5,116.5 91.2,114.7 91,112.8 90.7,110.7 90.5,108.5 90.5,106.4 90.5,104.5 90.8,102.7 91.1,101.1 91.7,99.6 92.3,98.3 93.1,97 94.1,95.9 95.1,94.9 96.2,93.9 97.4,93.1 98.8,92.3 100.1,91.7 101.6,91 103.1,90.5 104.7,90.1 106.3,89.7 107.9,89.4 109.5,89.3 111.1,89.2 112.7,89.2 114.3,89.3 115.9,89.5 117.5,89.8 119.1,90.2 120.7,90.6 122.3,91 123.9,91.5 125.5,92.1 127.1,92.6 128.7,93.2 130.3,93.7 131.9,94.3 133.5,94.8 135.1,95.4 136.7,95.9 138.3,96.4 139.9,96.9 141.5,97.5 143.1,98 144.7,98.4 146.3,98.9 147.9,99.4 149.6,99.9 151.1,100.3 152.6,100.8 153.9,101.2 155.2,101.7 156.4,101.9 157.5,102 158.5,101.9 159.5,101.6 160.3,101.4 161.1,101.4 161.7,101.4 162.2,101.6 162.7,101.6 163.3,101.6 163.8,101.6 164.3,101.4 165,101.2 165.9,101 167,100.8 168.3,100.4 169.9,100.2 171.6,99.9 173.6,99.7 175.9,99.6 178.1,99.3 180.3,99.1 182.6,98.8 184.8,98.5 187,98.1 189.1,97.7 191.1,97.3 193,96.8 194.9,96.3 196.6,95.7 198.3,95.1 199.9,94.5 201.5,93.9 203.1,93.3 204.7,92.8 206.3,92.3 207.9,91.9 209.5,91.5 211.1,91.1 212.7,90.8 214.3,90.5 215.9,90.4 217.5,90.3 219.1,90.3 220.7,90.4 222.3,90.5 223.9,90.8 225.5,91.1 227,91.5 228.5,92 229.8,92.6 231.2,93.2 232.3,94 233.4,94.8 234.3,95.6 235.1,96.6 235.8,97.6 236.4,98.7 236.9,99.9 237.3,101.3 237.6,102.6 237.7,103.9 237.8,105.3 237.7,106.8 237.5,108.2 237.2,109.5 236.8,110.8 236.3,112.1 235.7,113.5 235,114.9 234.2,116.5 233.2,118.1 232.3,119.6 231.4,120.9 230.5,122.2 229.6,123.3 228.5,124.5 227.2,125.8 225.8,127.1 224,128.4 222.4,129.8 220.7,131 219.1,132.3 217.5,133.4 215.9,134.6 214.3,135.7 212.7,136.7 211.1,137.7 209.5,138.7 207.9,139.7 206.3,140.6 204.7,141.6 203.1,142.5 201.5,143.5 199.9,144.4 198.3,145.4 196.7,146.3 195.1,147.2 193.5,148 191.9,148.8 190.3,149.6 188.7,150.3 187.1,151 185.5,151.6 184.1,152.2 182.8,152.6 181.6,153 180.7,153.2 179.7,153.3 178.8,153.3 178,153.2 177.2,153 176.4,152.6 175.6,152.2 174.8,151.6 174,151 173.2,150.3 172.3,149.6 171.4,148.8 170.4,148 169.5,147.2 168.5,146.4 167.5,145.6 166.6,144.8 165.6,144.1 164.6,143.4 163.5,142.7 162.5,142.2 161.3,141.7 160,141.3 158.5,141 156.9,140.9 155.3,140.8 153.7,140.9 152.1,141.1 150.5,141.4 149,141.8 147.5,142.2 146.2,142.6 144.9,143.1 143.6,143.6 142.3,144 141.1,144.4 139.8,144.9 138.3,145.2 136.7,145.4 135,145.6 133,145.7 131.1,145.7 129.2,145.7 127.3,145.5 125.4,145.4 123.5,145.1 121.8,144.8 120.1,144.4 118.4,143.9 116.8,143.4 115.2,142.7 113.6,142 112,141.2 110.4,140.3 108.8,139.2 107.2,138.1 105.6,136.8 104.1,135.5 102.6,134.1 101.3,132.7 100,131.3 98.8,130 97.8,129 96.8,128.1 95.9,127.5 95.1,126.6 94.4,125.5 93.7,124.2 93.2,122.8 92.7,121.2 92.2,119.7Z" fill="url(#gb)"/>
<path d="M91.8,118.1 91.5,116.5 91.2,114.7 91,112.8 90.7,110.7 90.5,108.5 90.5,106.4 90.5,104.5 90.8,102.7 91.1,101.1 91.7,99.6 92.3,98.3 93.1,97 94.1,95.9 95.1,94.9 96.2,93.9 97.4,93.1 98.8,92.3 100.1,91.7 101.6,91 103.1,90.5 104.7,90.1 106.3,89.7 107.9,89.4 109.5,89.3 111.1,89.2 112.7,89.2 114.3,89.3 115.9,89.5 117.5,89.8 119.1,90.2 120.7,90.6 122.3,91 123.9,91.5 125.5,92.1 127.1,92.6 128.7,93.2 130.3,93.7 131.9,94.3 133.5,94.8 135.1,95.4 136.7,95.9 138.3,96.4 139.9,96.9 141.5,97.5 143.1,98 144.7,98.4 146.3,98.9 147.9,99.4 149.6,99.9 151.1,100.3 152.6,100.8 153.9,101.2 155.2,101.7 156.4,101.9 157.5,102 158.5,101.9 159.5,101.6 160.3,101.4 161.1,101.4 161.7,101.4 162.2,101.6 162.7,101.6 163.3,101.6 163.8,101.6 164.3,101.4 165,101.2 165.9,101 167,100.8 168.3,100.4 169.9,100.2 171.6,99.9 173.6,99.7 175.9,99.6 178.1,99.3 180.3,99.1 182.6,98.8 184.8,98.5 187,98.1 189.1,97.7 191.1,97.3 193,96.8 194.9,96.3 196.6,95.7 198.3,95.1 199.9,94.5 201.5,93.9 203.1,93.3 204.7,92.8 206.3,92.3 207.9,91.9 209.5,91.5 211.1,91.1 212.7,90.8 214.3,90.5 215.9,90.4 217.5,90.3 219.1,90.3 220.7,90.4 222.3,90.5 223.9,90.8 225.5,91.1 227,91.5 228.5,92 229.8,92.6 231.2,93.2 232.3,94 233.4,94.8 234.3,95.6 235.1,96.6 235.8,97.6 236.4,98.7 236.9,99.9 237.3,101.3 237.6,102.6 237.7,103.9 237.8,105.3 237.7,106.8 237.5,108.2 237.2,109.5 236.8,110.8 236.3,112.1 235.7,113.5 235,114.9 234.2,116.5 233.2,118.1 232.3,119.6 231.4,120.9 230.5,122.2 229.6,123.3 228.5,124.5 227.2,125.8 225.8,127.1 224,128.4 222.4,129.8 220.7,131 219.1,132.3 217.5,133.4 215.9,134.6 214.3,135.7 212.7,136.7 211.1,137.7 209.5,138.7 207.9,139.7 206.3,140.6 204.7,141.6 203.1,142.5 201.5,143.5 199.9,144.4 198.3,145.4 196.7,146.3 195.1,147.2 193.5,148 191.9,148.8 190.3,149.6 188.7,150.3 187.1,151 185.5,151.6 184.1,152.2 182.8,152.6 181.6,153 180.7,153.2 179.7,153.3 178.8,153.3 178,153.2 177.2,153 176.4,152.6 175.6,152.2 174.8,151.6 174,151 173.2,150.3 172.3,149.6 171.4,148.8 170.4,148 169.5,147.2 168.5,146.4 167.5,145.6 166.6,144.8 165.6,144.1 164.6,143.4 163.5,142.7 162.5,142.2 161.3,141.7 160,141.3 158.5,141 156.9,140.9 155.3,140.8 153.7,140.9 152.1,141.1 150.5,141.4 149,141.8 147.5,142.2 146.2,142.6 144.9,143.1 143.6,143.6 142.3,144 141.1,144.4 139.8,144.9 138.3,145.2 136.7,145.4 135,145.6 133,145.7 131.1,145.7 129.2,145.7 127.3,145.5 125.4,145.4 123.5,145.1 121.8,144.8 120.1,144.4 118.4,143.9 116.8,143.4 115.2,142.7 113.6,142 112,141.2 110.4,140.3 108.8,139.2 107.2,138.1 105.6,136.8 104.1,135.5 102.6,134.1 101.3,132.7 100,131.3 98.8,130 97.8,129 96.8,128.1 95.9,127.5 95.1,126.6 94.4,125.5 93.7,124.2 93.2,122.8 92.7,121.2 92.2,119.7Z" fill="url(#gv)"/>
<g clip-path="url(#cb)" fill="none" stroke="#2a2490" stroke-opacity="0.5" stroke-width="0.8"><path d="M150,230.7 160,231.2 170,230.8 180,229.5 185,228.4 190,227.1 195.6,225.4 200,223.7 204.7,221.8 209.3,219.5 214.5,216.7 218.8,214 226.7,208.3 230.6,205.1 234.5,201.4 237.9,198 241.5,193.9 247.5,186.2 250.4,181.7 253,177.3 255.3,172.8 257.3,168.4 259.1,163.9 261,158.3 262.3,153.3 263.4,148.3 264.4,142.8 264.9,138.3 265.2,132.8 265.3,127.2 265.1,120.5 264.7,113.8 263.5,102.7 262.5,94.9 261.4,88.3 260.3,82.7 259,77.3 257.6,72.7 254.2,63.8 252.1,59.3 249.8,54.9 244.8,47.1 241.4,42.6 237.9,38.4 234.5,34.9 230.1,30.7 225.8,27.1 221.3,23.7 216.7,20.7 212.6,18.2 207.8,15.7 202.3,13.1 197.8,11.3 192.2,9.4 187.8,8.1 182.2,6.8 176.7,5.9 171.1,5.2 165.5,4.8 160,4.7 150,5.3 144.4,6 139,7 134.4,8.2 128.8,9.8 123.9,11.5 118.8,13.6 114.4,15.7 109.7,18.2 105.5,20.7 100.9,23.7 96.4,27.1 92.1,30.7 87.7,34.8 84.5,38.2 81,42.2 78,46 74.8,50.4 72,54.9 67.3,63.8 65.2,68.2 63.1,73.8 59.9,84 57.5,94.9 56.5,101 55.8,107.2 55.4,112.9 55.2,119.4 55.6,130.5 56.1,136.1 56.8,141.7 57.9,147.2 59.2,152.8 60.8,158.3 62.3,162.8 64.3,167.8 66.6,172.8 68.9,177.3 71.5,181.7 74.4,186.2 77.7,190.6 81,194.7 84.3,198.4 88.8,202.8 92.5,206.2 96.6,209.5 101,212.7 105.5,215.6 109.9,218.2 114.7,220.7 119.6,222.9 128.8,226.3 133.3,227.6 138.8,228.9 144.4,229.9 150,230.7 M173.3,150.6 161.1,147.6 155.5,146.7 148.9,146.4 133.3,146.6 127.7,146.3 123.3,145.8 118.8,144.8 113.3,143.1 108.8,141.1 104.4,138.6 99.4,135 97,132.8 94.9,130.5 91.7,126.1 90.5,123.9 89.2,120.5 88,116.1 87.8,113.8 87.7,110.5 88.2,107.2 88.7,104.9 89.5,102.7 90.6,100.5 92.1,98.3 94.3,96.1 96.6,94.4 98.8,93.2 102.1,91.9 105.5,90.9 108.8,90.3 112.1,90.1 116.6,90.2 121,90.7 126.6,91.6 146.6,95.7 152.2,96.4 157.8,96.8 164.4,96.7 177.8,95.6 192.2,93.6 205.6,91.4 214.5,90.6 218.9,90.6 222.3,91.1 227.6,92.7 231.2,94.4 233.4,96 234.7,97.2 235.7,98.3 237.2,100.5 238.1,102.7 238.8,104.9 239.1,108.3 239,110.5 238.7,112.7 238.1,115 237.3,117.2 235.5,120.5 234.1,122.8 231.5,126.1 227.4,130.5 224.5,133.2 221.2,135.9 214.3,140.6 206.7,144.6 197.8,148.3 191.1,150.3 184.5,151.4 181.1,151.6 178.9,151.5 173.3,150.6 M152.8,235.1 157.8,235.4 163.3,235.4 168.9,235.1 174.4,234.6 184.5,232.9 190,231.5 195.6,229.9 200,228.3 205.6,226 210.1,224 215.6,221 220.1,218.4 225,215.1 229.5,211.8 233.5,208.4 237.2,205.1 241.2,201.1 244.7,197.3 248.4,192.8 251.6,188.4 254.6,183.9 257.9,178.4 260.1,174.1 262.3,169.3 264.5,163.9 266.1,159.5 267.7,153.9 269.9,143.9 270.7,138.3 271.2,132.8 271.5,127.2 271.5,120.5 271.3,113.8 270.7,107.2 269.9,100.5 268.9,93.8 267.8,88.3 266.2,81.6 264.6,76 262.7,70.5 260.4,64.9 258.4,60.4 256.1,56 253.4,51.5 250.1,46.4 246.8,41.9 243.4,37.9 239.7,33.8 235.6,29.8 231.2,25.8 226.7,22.3 222.3,19.2 217.2,15.9 212.3,13.2 206.7,10.5 202.3,8.6 196.7,6.5 191.1,4.8 185.6,3.3 180,2.2 174.4,1.4 168.9,0.9 163.3,0.6 157.8,0.7 152.2,1 146.6,1.6 141.1,2.4 135.5,3.6 129.9,5.1 124.4,6.9 118.8,9 114.4,11 109,13.7 104.4,16.3 99.7,19.3 95.5,22.3 91,25.8 87,29.3 83.2,33 79.3,37.1 75.6,41.5 72.2,46 69.1,50.4 66.4,54.9 63.3,60.4 61,65.3 58.7,70.5 56.7,76 54.9,81.6 53.4,87.1 52.1,92.8 51,99.1 49.7,110.5 49.5,117.2 49.5,122.8 50.2,133.9 50.9,139.4 51.9,145 53.2,150.6 54.7,156.1 56.5,161.7 58.7,167.2 61,172.4 63.2,176.8 66,181.7 68.8,186.2 71.9,190.6 75.4,195.2 79.2,199.5 83.2,203.7 87.1,207.3 91,210.7 95.5,214.1 100.1,217.3 105.5,220.6 109.9,223 114.4,225.2 119.9,227.6 125.5,229.6 131.1,231.3 136.6,232.7 142.2,233.8 147.8,234.6 152.8,235.1 M174.4,148.5 161.1,145.2 155.5,144.2 148.9,144 134.4,144.4 128.8,144.1 124.4,143.5 119.9,142.6 115.5,141.2 112.1,139.8 108.8,138.1 103.9,135 99.9,131.5 96.2,127.2 94.8,125 93.7,122.8 92.8,120.5 91.8,117.2 91.3,112.7 91.4,109.4 91.8,107.2 92.5,104.9 93.5,102.7 94.9,100.5 96.6,98.7 98.5,97.2 101,95.7 103.2,94.7 106.6,93.6 109.9,93 113.3,92.7 117.7,92.8 123.3,93.4 146.6,98 152.2,98.7 157.8,99.2 163.3,99.1 177.8,97.8 193.4,95.8 204.5,94 212.3,93.4 216.7,93.4 220.1,93.9 223.8,94.9 227.8,96.8 229.9,98.3 231.1,99.4 232.3,100.9 233.4,102.7 234.3,104.9 234.7,107.2 234.8,109.4 234.6,111.6 233.4,116.1 231.2,120.5 229.7,122.8 227.1,126.1 222.9,130.5 217.8,134.8 210.9,139.4 204.5,142.9 196.7,146.2 190,148.2 184.5,149.1 180,149.2 174.4,148.5 M181.1,237.6 191.1,235.4 201.2,232.2 206.7,229.9 211.2,227.9 220.1,223.2 224.5,220.4 229,217.3 236.8,211.1 244.3,204 251.2,196.2 256.9,188.4 262.4,179.5 266.8,170.5 269,165.1 270.6,160.6 273.5,150.6 275.4,140.6 276.5,130.5 276.8,119.4 276.2,108.3 275.6,102.7 274.7,96 272.3,84.9 270.8,79.4 269,73.8 265.1,63.8 260.6,54.9 258,50.4 255.1,46 249.3,38.2 245.6,34 242.3,30.4 238.8,27.1 234.5,23.3 226.4,17.1 217.5,11.5 213.4,9.3 207.8,6.6 203.4,4.8 197.8,2.7 187.8,-0.1 177.8,-2.1 M144.4,-2 134.4,-0.1 124.4,2.7 118.8,4.8 114.4,6.7 108.9,9.3 104.7,11.5 95.8,17.1 87.7,23.3 83.3,27.1 79.9,30.4 73.2,37.7 66.9,46 61.2,54.9 58.7,59.4 56.1,64.9 52.1,74.8 48.9,84.9 46.5,95.8 45.1,106.1 44.5,117.2 44.8,128.3 45.9,138.3 46.8,143.9 48.1,149.4 50.9,159.5 54.3,168.5 56.5,173.4 59,178.4 64.3,187.3 67.4,191.7 70.8,196.2 77.7,204 81,207.3 85.4,211.4 93.2,217.5 97.7,220.6 102.1,223.3 107.3,226.2 111.8,228.4 121,232.3 131.1,235.5 141.1,237.7 M174.4,146.2 161.1,142.9 155.5,141.9 150,141.8 135.5,142.1 131.1,141.9 126.6,141.4 122.2,140.6 118.8,139.7 115.5,138.5 112.1,136.9 107.1,133.9 103,130.5 99.9,127.1 98.4,125 97.2,122.8 95.5,118.3 94.7,113.8 94.7,111.6 95,109.4 95.6,107.2 96.5,104.9 97.7,103 98.9,101.6 101,99.7 103.3,98.3 105.8,97.2 108.8,96.2 111,95.8 114.4,95.5 118.8,95.5 124.4,96.1 146.6,100.2 153.3,101 157.8,101.4 163.3,101.3 177.8,100 203.4,96.6 208.9,96.2 213.4,96.2 216.7,96.6 220.1,97.4 223.4,98.8 225.6,100.2 226.7,101.1 227.8,102.3 229,103.8 229.5,104.9 230.3,107.2 230.6,109.4 230.6,111.6 230.2,113.8 229.5,116.1 227.3,120.5 224.1,125 220.1,129.4 215.6,133.3 208.9,137.8 202.3,141.3 195.6,144.2 190,145.8 184.5,146.7 180,146.9 174.4,146.2 M196.7,237.7 205.6,234.5 213.4,231.1 221.2,227 229,222.1 235.6,217.1 242.3,211.4 248.7,205.1 254.5,198.4 260.1,190.9 264.6,183.9 268.8,176.2 272.3,168.4 275.5,159.5 277.7,151.7 279.6,142.8 280.8,133.9 M280.9,107.2 279.6,97.2 277.9,88.3 275.6,79.4 272.4,69.9 268.8,61.6 264.6,53.3 260.1,46 254.5,38.2 248.8,31.5 242.2,24.8 235.6,19.2 227.8,13.4 220.1,8.6 212.3,4.6 203.4,0.8 194.5,-2.2 M127.7,-2.2 119.9,0.4 111,4 103.2,8 95.5,12.7 87.8,18.2 81.2,23.7 74.4,30.4 68.8,36.8 63.4,43.8 58.7,50.9 54.3,58.9 50.5,67.1 47.1,76 44.4,84.9 42.4,93.8 41,102.7 M40.9,134.5 42.2,142.8 44.3,152.2 46.8,160.6 50.2,169.5 53.8,177.3 58.1,185.1 63.2,192.8 68.4,199.5 74.3,206.2 80,211.8 86.6,217.3 94.2,222.9 102.1,227.8 109.9,231.8 117.7,235.1 125.5,237.8 M175.6,144 171.1,143.1 160,140.3 155.5,139.7 151.1,139.5 135.5,139.6 127.7,139 124.4,138.4 121,137.5 117.7,136.4 114.5,135 109.9,132.3 106.3,129.4 103.2,126.1 101,122.8 99.5,119.4 98.9,117.2 98.6,115 98.6,112.7 98.8,110.5 100,107.2 101,105.4 102.3,103.8 104.4,102.1 106.6,100.8 108.8,99.8 111,99.1 113.3,98.7 116.6,98.4 121,98.4 125.5,98.9 146.6,102.5 153.3,103.3 157.8,103.6 164.4,103.4 178.9,102 200,99.6 205.6,99.2 210.1,99.2 213.4,99.6 216.7,100.3 219.9,101.6 221.6,102.7 222.9,103.8 224.7,106.1 225.2,107.2 225.9,109.4 226,112.7 225.3,116.1 224.5,118.3 223.3,120.5 220.2,125 217.1,128.3 212.3,132.5 206.9,136.1 201.2,139.2 195.6,141.6 190,143.3 185.6,144.1 181.1,144.4 175.6,144.0 M207.8,237.5 213.4,235.1 220.1,231.8 226.7,227.9 232.6,224 238.6,219.5 243.8,215.1 249,210.2 253.8,205.1 258.5,199.5 262.7,193.9 266.8,187.7 270.3,181.7 273.7,175 276.6,168.4 279,161.7 281,155.0 M280.9,82.7 278.9,76 276.1,68.2 273.3,61.6 269.9,54.9 266.8,49.3 262.5,42.6 257.9,36.4 253.4,31.1 248.7,26 242.8,20.4 237.5,15.9 231.5,11.5 225.6,7.7 218.9,3.9 212.3,0.6 205.6,-2.2 M116.6,-2.2 109.9,0.6 103.2,3.9 97.6,7 91,11.3 84.7,15.9 79.4,20.4 74.3,25.1 69.3,30.4 64.5,36 59.9,42.2 55.9,48.2 52.1,54.7 48.6,61.6 45.7,68.2 43.2,74.9 40.9,82.1 M40.9,155.2 43,161.7 45.5,168.4 48.4,175 51.8,181.7 55.4,188 59.4,193.9 63.5,199.5 68.2,205.1 73.2,210.4 78.2,215.1 83.4,219.5 89.3,224 95.5,228 101.9,231.8 108.6,235.1 114.4,237.6 M178.9,141.7 173.3,141 160,137.9 155.5,137.3 150,137 136.6,136.9 129.9,136.4 124.4,135.4 118.8,133.5 115,131.7 111,129 108,126.1 105.5,122.8 103.9,119.4 103.1,116.1 103.1,112.7 104.1,109.4 105.5,107.3 106.6,106.1 108,104.9 109.8,103.8 112.1,102.9 114.4,102.2 118.8,101.7 123.3,101.7 127.7,102 147.8,105.1 156.7,105.9 164.4,105.7 190,103.1 201.2,102.3 205.6,102.3 208.9,102.6 212.3,103.3 214.5,104.1 216.7,105.3 218.9,107.2 220.3,109.4 220.7,110.5 221,112.7 220.7,116.1 219.5,119.4 217.5,122.8 214.5,126.4 211.4,129.4 207,132.8 201.4,136.1 196.7,138.3 192.2,140 187.8,141.1 183.3,141.7 178.9,141.7 M215.6,237.9 221.2,235.1 226.7,232 232.3,228.5 237.1,225.1 242.3,221 246.8,217.2 251.4,212.9 255.7,208.4 259.5,204 263.4,199 266.8,194.4 270.1,189.3 273.3,183.9 276.2,178.4 278.7,172.8 281,167.2 M281.1,70.5 278.9,64.9 275.9,58.2 273,52.7 269.8,47.1 266.8,42.4 263,37.1 259,32 254.7,27.1 250.4,22.6 245.6,18.2 241.2,14.4 235.9,10.4 231.1,7 225.6,3.6 220.1,0.6 214.5,-2.2 M107.7,-2.2 102.1,0.6 96.6,3.6 91.1,7 86.3,10.4 81,14.4 76.5,18.2 71.8,22.6 67.5,27.1 63.2,31.9 59.1,37.1 55.4,42.2 52.2,47.1 49,52.7 46.1,58.2 43.5,63.8 40.9,70.0 M40.9,167.1 43.3,172.8 45.9,178.4 48.8,183.9 52.1,189.5 55.4,194.6 59,199.5 62.5,204 66.5,208.6 70.6,212.9 75.3,217.3 79.9,221.2 84.9,225.1 89.9,228.6 95.5,232.1 101,235.2 106.6,238.0 M175.6,138.5 171.1,137.7 161.1,135.4 156.7,134.6 151.1,134.1 138.8,133.9 133.3,133.5 127.7,132.6 122.2,131 118.8,129.4 115.5,127.3 112.8,125 110.9,122.8 109.7,120.5 108.6,117.2 108.5,115 109,112.7 109.9,110.8 111,109.4 113.3,107.7 115.5,106.7 117.4,106.1 122.2,105.4 125.5,105.3 129.9,105.6 147.8,108 156.7,108.6 163.3,108.4 185.6,106.2 194.5,105.7 198.9,105.6 203.4,105.9 206.7,106.5 209.1,107.2 211.4,108.3 212.8,109.4 213.8,110.5 214.9,112.7 215.3,115 215,117.2 213.8,120.5 211.7,123.9 208.6,127.2 204.6,130.5 201.2,132.8 196.7,135.1 192.2,136.9 187.8,138.1 184.5,138.6 180,138.8 175.6,138.5 M223.4,237.7 232.3,232.5 241.3,226.2 249.3,219.5 257.2,211.8 264,204 270.5,195.1 276,186.2 281.1,176.2 M280.9,60.4 275.8,50.4 270.4,41.5 264,32.6 256.8,24.3 249,16.6 244.5,12.8 240.1,9.3 231.2,3.1 222.3,-2.0 M99.9,-2 91,3.1 82.1,9.3 77.7,12.8 73.2,16.6 65.4,24.2 58.2,32.6 51.7,41.5 46.2,50.4 43.2,56 40.9,60.8 M40.9,176.2 46,186.2 51.5,195.1 58.1,204 64.8,211.8 72.7,219.5 80.8,226.2 89.9,232.6 98.8,237.8 M175.6,135.1 171.1,134.4 161.1,132 156.7,131.2 150,130.5 135.5,129.6 131.1,128.9 126.6,127.7 123.3,126.2 121.2,125 119.8,123.9 117.7,121.6 116.6,119.5 116.3,118.3 116.2,116.1 116.6,115 117.2,113.8 118.3,112.7 119.9,111.6 123.1,110.5 126.6,110 133.3,110.1 148.9,111.8 154.4,112 161.1,111.8 177.8,110 187.8,109.3 192.2,109.2 196.3,109.4 198.9,109.7 202.3,110.5 204.8,111.6 206.7,113.2 207.9,115 208.3,117.2 208,119.4 207,121.6 205.6,123.9 203.4,126.3 201,128.3 197.7,130.5 193.4,132.7 190.2,133.9 186.7,134.8 183.3,135.3 180,135.4 175.6,135.1 M230.1,237.7 237.9,232.7 245.1,227.3 252.3,221.2 259,214.7 265.6,207.3 271.2,199.9 276.7,191.7 281.1,183.9 M280.9,52.7 275.8,43.8 270.6,36 264.6,28.2 258.7,21.5 251.9,14.8 244,8.2 236.3,2.6 227.8,-2.6 M94.3,-2.6 85.9,2.6 78.2,8.2 70.3,14.8 63.5,21.5 56.6,29.3 51,36.7 45.6,44.9 40.9,53.0 M40.9,183.8 45.4,191.7 51,200.1 56.5,207.3 63.2,214.8 69.9,221.3 76.9,227.3 84.3,232.8 92.1,237.8 M174.4,130.6 169.4,129.4 153.3,124.5 147.8,123.4 142,122.8 137,121.6 135.2,120.5 135.1,119.4 136.6,118.7 138.8,118.4 148.9,118.5 154.4,118 170.9,115 179.7,113.8 184.5,113.6 187.8,113.7 191.1,114 193.4,114.5 194.9,115 197.1,116.1 198.2,117.2 198.8,118.3 199.1,119.4 199,120.5 198.1,122.8 196.7,124.5 195,126.1 193.4,127.2 191.1,128.5 188.9,129.4 185.6,130.4 183.3,130.8 180,131 174.4,130.6 M235.6,238 242.3,233.4 249,228.3 255.2,222.9 261.2,217 266.9,210.6 272.2,204 276.9,197.3 281.1,190.6 M281,46 276.1,38.2 271.4,31.5 266,24.8 261,19.3 255.3,13.7 249,8.2 241.8,2.6 234.5,-2.3 M87.7,-2.3 80.4,2.6 73.2,8.1 66.8,13.7 61.2,19.3 55.4,25.7 49.9,32.6 45.3,39.3 40.9,46.3 M40.9,190.5 45.2,197.3 49.8,204 55.2,210.6 61,217.1 66.9,222.9 73.2,228.4 79.9,233.5 86.6,238.1 M241.2,237.9 246.8,233.9 252.3,229.5 257.9,224.6 263.4,219.1 268.1,214 272.7,208.4 276.9,202.8 281.2,196.3 M281.2,40.4 276.8,33.8 272.7,28.2 268.2,22.6 263.1,17.1 257.9,11.9 252.3,7 246.8,2.5 240.1,-2.3 M82.1,-2.3 75.4,2.5 69.9,7 64.3,11.9 59.1,17.1 54,22.6 49.4,28.2 45.3,33.8 40.9,40.2 M40.9,196.5 45.2,202.8 49.4,208.4 54,214 58.7,219.2 64.3,224.7 69.8,229.6 75.4,234 81,238.0 M246.8,237.6 251.5,234 256.8,229.6 261.2,225.5 265.7,221.1 270.1,216.2 273.9,211.8 277.9,206.6 281.2,201.8 M281.2,34.8 277.3,29.3 273.5,24.3 269.2,19.3 264.6,14.3 259.4,9.3 254.6,5 250.1,1.4 244.5,-2.8 M77.7,-2.8 72.1,1.3 67.6,5 62.8,9.3 57.6,14.3 52.9,19.3 48.7,24.2 44.8,29.3 40.9,34.7 M40.9,202 44.3,206.7 48.2,211.8 52.1,216.4 56.5,221.2 61,225.6 65.4,229.7 70.6,234 75.4,237.7 M251.2,237.9 259,231.5 266.9,224 274,216.2 281,207.3 M281,29.3 274,20.4 266.8,12.4 258.8,4.8 250.1,-2.3 M72.1,-2.3 63.4,4.8 55.4,12.4 47.6,21 40.9,29.6 M40.9,207.1 47.6,215.6 55.2,224 63.2,231.6 71,238.0"/></g>
<rect x="44.0" y="1.0" width="233.8" height="233.5" fill="none" stroke="#c9c9c9" stroke-width="1"/>
<path d="M44.0,207.3 h2.3 M277.8,207.3 h-2.3 M72.1,234.5 v-2.3 M72.1,1.0 v2.3 M44.0,162.8 h2.3 M277.8,162.8 h-2.3 M116.6,234.5 v-2.3 M116.6,1.0 v2.3 M44.0,118.3 h2.3 M277.8,118.3 h-2.3 M161.1,234.5 v-2.3 M161.1,1.0 v2.3 M44.0,73.8 h2.3 M277.8,73.8 h-2.3 M205.6,234.5 v-2.3 M205.6,1.0 v2.3 M44.0,29.3 h2.3 M277.8,29.3 h-2.3 M250.1,234.5 v-2.3 M250.1,1.0 v2.3" stroke="#8a8a8a" stroke-width="0.6" fill="none"/>
<path d="M247.2,100.4 l4.6,4.6 M247.2,105.0 l4.6,-4.6" stroke="#f6101a" stroke-width="1.4" fill="none"/>
<path d="M72.7,103.7 l4.6,4.6 M72.7,108.3 l4.6,-4.6" stroke="#f6101a" stroke-width="1.4" fill="none"/>
<path d="M160.7,52.7 l4.6,4.6 M160.7,57.3 l4.6,-4.6" stroke="#f6101a" stroke-width="1.4" fill="none"/>
<path d="M156.2,181.6 l4.6,4.6 M156.2,186.2 l4.6,-4.6" stroke="#f6101a" stroke-width="1.4" fill="none"/>
<g font-family="'Liberation Serif',serif" font-size="15.7" fill="#161616" stroke="#161616" stroke-width="0.18">
<text x="40.3" y="34.5" text-anchor="end">20</text>
<text x="250.1" y="253.5" text-anchor="middle">20</text>
<text x="40.3" y="79.0" text-anchor="end">10</text>
<text x="205.6" y="253.5" text-anchor="middle">10</text>
<text x="40.3" y="123.5" text-anchor="end">0</text>
<text x="161.1" y="253.5" text-anchor="middle">0</text>
<text x="40.3" y="168.0" text-anchor="end">-10</text>
<text x="115.8" y="253.5" text-anchor="middle">-10</text>
<text x="40.3" y="212.5" text-anchor="end">-20</text>
<text x="71.3" y="253.5" text-anchor="middle">-20</text>
<text x="160.8" y="272.8" text-anchor="middle" font-size="17.2"><tspan font-style="italic">x</tspan> / km</text>
<text transform="translate(13.0,118.3) rotate(-90) scale(1,0.74)" text-anchor="middle" font-size="17.1"><tspan font-style="italic">y</tspan> / km</text>
</g>
<g clip-path="url(#cr)" fill="none" stroke-width="0.72" stroke-linejoin="round">
<path stroke="#352a87" d="M552.9,234.2 549.9,226.3 546.7,218.4 539.4,202.6 531.8,187.7 516.5,159.1 507.2,141.3 506.6,140.4 506.5,139.5 506.9,139.5 507.2,140.4 508,141.3 508.3,142.1 508.6,142.2 516.5,155.3 523.5,165.7 531.4,175.9 540.1,185.8 549.8,195.5 559.4,204 570,212.1 576.1,216.4 581.4,219.8 M350.2,224.6 356,220.8 362.1,216.5 368.3,211.7 373.5,207.3 379.7,201.8 384.9,196.7 390.2,191.1 394.6,186.1 402.5,176.1 406,171.1 409.5,165.6 413,159.5 415.6,154.3 421.6,140.4 422.6,138.6 423,138.6 423,139.5 422.6,140.2 422.3,140.4 422.2,141.3 421.5,143 418.2,153.1 414.2,164.1 410.3,173.4 399.3,198.3 394.1,210.5 389.3,222.8 385.3,234.2 M473.5,138.6 474.6,138.6 473.5,138.6 M487.5,138.7 486.9,138.6 488.2,138.6 487.5,138.7 M505.9,139.3 505.5,138.6 505.9,138.3 506.2,138.6 505.9,139.3 M423.5,138.5 423.2,137.7 423.5,137.5 424,137.7 423.5,138.5 M442.8,137.8 448.8,137.7 442.8,137.8 M459.5,137.8 458.9,137.7 460.3,137.6 462.6,137.7 459.5,137.8 M469.1,137.8 470,137.7 469.1,137.8 M491.9,137.8 491.6,137.7 491.9,137.7 492.4,137.7 491.9,137.8 M505.1,138.2 504.7,137.7 505.1,137.3 505.5,137.7 505.1,138.2 M424.4,137.2 424.2,136.9 424.4,136.8 425.3,136.9 424.4,137.2 M431.4,136.9 433.1,136.9 431.4,136.9 M495.4,136.9 496.4,136.9 495.4,136.9 M504.2,137.3 503.5,136.9 504.2,136.6 504.6,136.9 504.2,137.3 M523.5,102.7 524.7,102.7 523.5,102.7 M526.1,102.9 525.5,102.7 526.1,102.4 526.5,102.7 526.1,102.9 M413.9,101.9 413.4,101.8 413.9,101.7 414.1,101.8 413.9,101.9 M521.7,101.8 521.5,101.8 521.7,101.8 M527,101.9 527,101.7 527.1,101.8 527,101.9 M416.5,101 416.2,100.9 416.5,100.8 417,100.9 416.5,101.0 M519.1,101 518.7,100.9 519.1,100.8 519.3,100.9 519.1,101.0 M527.9,101.3 527.6,100.9 527.9,100.6 528.2,100.9 527.9,101.3 M407.7,100.4 407.5,100 407.7,99.9 407.7,100.4 M420.9,100.1 420.4,100 420.9,99.9 421.4,100 420.9,100.1 M439.3,100.1 438.9,100 439.3,100 440.9,100 439.3,100.1 M445.4,100.1 445.1,100 446.3,99.8 447.2,99.8 447.8,100 446.3,100.2 445.4,100.1 M493.7,100 494.5,99.9 496.6,100 493.7,100.0 M514.7,100 515.7,100 514.7,100.0 M528.7,100.3 528.4,100 528.7,99.3 529,100 528.7,100.3 M406.8,99.6 406.5,99.2 406.8,98.6 407.2,99.2 406.8,99.6 M427,99.2 429.6,99 432.1,99.2 427,99.2 M448.9,99.6 448.2,99.2 449.8,98.3 454.2,94.6 456.8,92.7 458.6,91.8 461.2,90.7 463.8,90.2 465.6,90 467.4,90.1 470,90.4 474.4,91.7 479.6,94.1 486.6,98.2 490.9,99.2 489.3,99.6 486.6,99.6 485.1,99.2 478.8,96.1 473.5,94.3 468.2,92.9 464.7,92.6 461.2,93.1 458.6,94 455.1,95.9 450.3,99.2 448.9,99.6 M505.9,99.2 505.2,99.2 506.8,99.1 511.4,99.2 505.9,99.2 M581.4,42.2 574.3,47.4 567.3,53.3 560.3,59.9 554.2,66.3 548,73.4 542.8,80.1 537.5,87.4 529.6,99.1 529.3,98.3 529.9,97.4 535.4,86 541.5,72 545.8,60.6 550,48.3 553.6,36 556.5,24.6 558.8,13.2 560.3,2.9 M365.8,2.7 368.1,13.2 371.2,24.6 374.8,35.1 379.3,46.5 384.4,57.9 389.7,68.5 396.9,81.6 404.9,95.6 406.1,97.4 406.3,98.3 406,98.4 405.9,98.3 405.5,97.4 405.1,97.2 398.9,88.9 391.9,80.2 385.8,73.4 379.7,67.1 371.8,59.8 364.7,53.9 357.7,48.5 349.8,43.1"/>
<path stroke="#1757d9" d="M510.3,234 513.3,229 516.1,222.8 518.1,216.7 519.5,210.5 520.2,204.4 520.5,197.4 520.2,190.4 519.2,182.5 516.9,171.9 513.8,161.4 509.3,149.1 507,143.9 505.2,140.4 504.1,138.6 503.3,137.9 501.6,137 499.8,136.8 495.4,137.3 494.5,137.3 494.1,136.9 495.4,136.6 498,136.4 498.6,136 499.8,135.8 502.4,135.7 504.6,136 505.9,136.9 508.1,139.5 516.5,151.4 520,155.7 524.4,160.5 528.7,164.7 534,169.1 539.3,172.8 544.5,176 548.9,178.3 553.3,180.2 557.7,181.8 562.1,183.1 566.5,184.1 571.7,184.9 577,185.3 581.4,185.4 M349.8,186.3 355.1,186.3 361.2,185.8 366.5,184.8 371.8,183.5 377,181.7 382.3,179.5 387.5,176.7 391.9,174 396.3,170.8 400.7,167.2 404.2,163.8 407.7,160 411.2,155.5 413.9,151.7 416.5,147.4 421.3,138.6 422.8,136.9 424.2,136 425.3,135.8 427,135.8 429.6,136.4 432.3,136.5 435.4,136.9 435.8,137.3 436.7,137.3 448.9,137.3 451.6,137.2 453.3,136.9 464.7,136.8 466.3,136.9 467.4,137.3 471.5,137.7 470.9,138.2 465.6,138 462.1,138.6 460.3,138.6 455.1,138 448.1,138.2 441,138.1 435.8,137.8 434,137.4 427.9,137.2 427,137.2 425.6,137.7 424.8,138.6 424.4,139.5 423.2,143 422.2,148.3 420.3,160.5 418.7,171.9 417.6,185.1 417.4,191.2 417.6,196.5 418,201.8 418.7,207 419.8,212.3 421,216.7 422.6,221.2 424.9,226.3 427,230.3 429.5,234.2 M477,139.5 476.8,139.5 477,139.3 477.9,139.1 479.6,139.1 483.1,139.2 484,139.3 484.3,139.5 480.5,139.8 477,139.5 M471.7,138.6 471.7,138.5 473.5,138.2 476.6,138.6 476.1,139 474.4,139.1 471.7,138.6 M484.9,138.8 484.7,138.6 487.5,138.2 489.3,138.3 489.9,138.6 487.5,139.1 484.9,138.8 M490.2,137.8 492.8,137.4 493.7,137.4 493.9,137.7 491.9,138.2 491,138.2 490.2,137.8 M423.5,99.5 423.3,99.2 427.9,98.7 431.4,98.8 435.5,99.2 434.9,99.4 433.2,99.5 423.5,99.5 M581.4,72.9 574.3,73.5 570,74.3 566.5,75.1 559.4,77.6 552.4,80.9 546.3,84.8 541,88.9 535.8,93.9 528.6,101.8 527.6,102.7 526.1,103.6 525.2,103.6 523.5,103.1 520.1,101.8 520,101.6 517.2,100.9 516.5,100.5 514.7,100.3 513.2,100 513,99.7 512.1,99.6 501.6,99.6 500.7,99.7 499.7,100 495.4,100.5 488.4,100.9 485.8,100.7 479.6,98.8 474.4,97.6 469.1,96 466.5,95.5 464.7,95.4 462.1,95.6 459.5,96.2 456,97.7 451.4,100 448.9,100.7 445.4,100.8 435.8,100 436.7,99.5 442.8,99.6 445.4,99.2 447,98.3 448.1,97.4 454.2,90.3 457.7,87.2 460.3,85.5 462.1,84.7 464.7,83.8 466.5,83.5 469.1,83.5 470.9,83.7 473.5,84.4 476.1,85.7 480.5,88.7 488.1,95.6 491,97.4 494.5,98.8 497.2,99.1 506.8,98.7 511.2,98.8 513.3,99.2 513.8,99.5 515.6,99.6 518.2,100.4 519.1,100.4 523.5,102 524.4,102 525.2,102 526.1,101.5 527.6,99.2 529.3,94.8 531,88.6 532.1,81.6 532.4,74.6 531.8,67.6 530.2,60.6 527.9,54.1 526.1,50.5 524.4,47.4 522.6,44.7 520,41.2 515.6,36.4 513,34 509.5,31.1 503.3,26.9 496.3,23 488.4,19.5 479.6,16.5 470.9,14.2 462.1,12.9 454.2,12.4 449.8,12.6 445.4,13 441,13.7 436.7,14.8 432.3,16.2 428.8,17.7 425.3,19.4 421.8,21.6 418.2,24.1 415.6,26.3 413,28.9 409.9,32.5 407.7,35.6 405.4,39.5 403.7,43 402.3,46.5 400.8,51.8 399.8,56.9 399.3,62.3 399.4,67.6 399.9,72.8 400.9,79 402.6,85.1 404.7,91.3 406.5,95.6 408.3,99.2 409.5,100.9 410.3,101.5 411.2,101.7 412.1,101.6 414.7,101.1 416.5,100.5 418.2,100.4 418.6,100 420.9,99.6 422.6,99.6 423.2,100 420.9,100.4 419.1,100.4 418.6,100.9 415.6,101.5 415.2,101.8 413,102.4 412.1,102.8 410.3,103.1 409.5,103 407.8,101.8 400.7,94.1 394.6,88.4 388.4,83.8 381.4,79.6 377.9,77.9 373.5,76.1 370,74.9 365.6,73.6 361.2,72.7 357.7,72.2 349.8,71.8"/>
<path stroke="#1481d5" d="M467.7,210.5 473.5,210.7 478.8,210.1 484,208.6 486.6,207.5 489.3,206.1 493.7,203.1 498,199.1 501.6,194.6 504.2,190.2 506.4,185.1 508.1,179 509,172.8 509.2,166.7 508.7,159.7 507.5,152.7 505.5,145.6 504.6,143 503.3,140.4 502.4,139.1 501.6,138.3 500.6,137.7 498.9,137.6 496.3,137.7 485.8,139.8 480.5,140.3 477,140 468.2,138.6 465.6,138.8 462.1,139.9 460.3,140.1 458.6,139.8 456,139.1 452.4,138.8 438.4,138.5 431.4,138 428.8,138.1 427,138.6 426.4,139.5 425.9,141.3 425.5,146.5 426,153.5 427,160.8 428.8,169 430.7,175.5 433.2,182.1 436,187.7 438.7,192.1 441.9,196.3 445.4,200 449.8,203.6 454.2,206.3 458.6,208.3 463,209.7 467.7,210.5 M350,158.8 353.3,160.9 357.7,163.1 361.2,164.4 365.6,165.6 369.1,166.2 373.5,166.6 377.9,166.5 382.3,166 388.4,164.6 393.7,162.7 398.9,160 403.3,157.1 406.8,154.3 410.3,151 414.7,145.8 420.3,137.7 422.1,136 423.5,135.4 425.3,135.1 435.8,136.5 442.8,136.9 447.2,136.9 452.4,136.5 461.2,136.3 464.7,136.4 468.2,136.7 476.1,138.2 480.5,138.5 486.6,138 497.2,135.8 500.7,135.3 503.3,135.1 505.1,135.3 506.4,136 507.4,136.9 517.3,148.6 520.9,152.1 525.2,155.8 528.7,158.3 533.1,160.9 537.5,163 541.9,164.6 547.2,166 552.4,166.7 557.7,166.9 562.1,166.6 567.3,165.6 571.7,164.3 576.4,162.3 580.9,159.7 M522.4,100.9 523.5,101.1 524.8,100.9 525.6,100 526.1,99.2 526.6,97.4 527.1,94.8 527.2,89.5 526.6,85.1 525.2,80.7 523.5,77.2 520.9,73.7 518.2,71.2 514.7,68.9 511.2,67.5 507.7,66.8 504.2,66.8 500.7,67.5 497.2,69 494.5,70.9 492.8,72.9 491,76 490.2,79 489.8,82.5 490.2,86.9 491.1,90.4 492.6,93.9 494.5,96.5 495.6,97.4 498.2,98.3 501.6,98.4 507.7,98.1 510.3,98.2 518.2,99.7 522.4,100.9 M410.3,100 411.2,100.7 412.1,100.9 417.4,99.7 424.4,98.5 430.5,98.3 436.7,98.7 441,98.6 443.3,98.3 444.7,97.4 445.4,96.5 446.4,94.8 448.7,88.6 450.4,82.5 451.1,77.2 450.9,72.8 450,69.3 448.1,65.8 445.9,63.2 442.8,60.8 439.3,59 434.9,57.8 430.5,57.5 426.1,58.1 421.8,59.7 418.2,61.7 414.7,64.7 412.1,67.9 409.8,72 408.2,76.4 407.3,80.7 407,86 407.5,91.3 408.6,96.5 409.3,98.3 410.3,100.0 M581.4,95.3 576.1,92.4 570.4,90.4 564.7,89.3 558.6,89 555.1,89.3 550.7,90.2 546.3,91.5 542.8,93 537.5,95.9 534,98.4 527.9,103.5 526.1,104.3 525.2,104.3 520,102.2 517.3,101.4 513,100.4 510.3,100 507.7,99.9 500.7,100.3 491,101.5 485.8,101.7 480.5,100.9 473.5,100.1 467.4,98.4 463.8,98 460.3,98.5 452.7,100.9 450.7,101.4 447.2,101.5 441,101 432.3,100.1 427,100 423.5,100.4 418.2,101.4 410.3,103.7 409.1,103.5 407.6,102.7 403.3,98.8 399.8,96 396.3,93.6 393.7,92.1 390.2,90.4 386.7,89.1 383.2,88.1 379.7,87.4 376.1,87 371.8,86.9 367.4,87.2 363.9,87.9 360.4,88.8 356.9,90.1 353.3,91.8 350,93.9"/>
<path stroke="#06a6c6" d="M469,188.6 473.5,189.1 477.9,188.9 482.3,188 485.8,186.8 489.3,185 492.8,182.5 496.3,179 498.9,175.5 500.9,171.9 502.6,167.6 503.7,163.2 504.3,157.9 504.3,152.7 503.6,147.4 503,144.8 502.2,142.1 501.3,140.4 500.7,139.5 499.8,138.8 498.9,138.5 496.3,138.4 486.6,140.2 480.5,140.8 477.9,140.7 470.7,139.5 468.2,139.4 466.5,139.9 462.1,141.9 459.5,142.4 457.7,142.1 452.9,140.4 448.9,139.5 433.2,138.8 431.4,139 429.6,139.5 428.8,140.4 428.6,141.3 428.5,143.9 429.2,147.4 430.5,151.1 432.3,154.8 434.9,159.3 439.3,165.6 443.7,171.4 447.1,175.5 449.8,178.2 452.6,180.7 456,183.2 458.6,184.8 462.1,186.5 465.6,187.8 469,188.6 M541.1,157.9 544.5,158.3 548,158.4 551.5,158.1 555.1,157.5 558.6,156.5 561.7,155.3 564.7,153.7 567.7,151.8 570,150 572.7,147.4 574.8,144.8 576.6,142.1 578,139.5 579.4,136 580.4,132.5 580.9,129.0 M581,123.7 580.1,118.5 579.3,115.8 578.2,113.2 575.7,108.8 572.6,105 570.1,102.7 568.2,101.2 563.8,98.6 559.4,96.9 554.2,95.9 550.7,95.7 547.2,95.9 544.5,96.3 541,97.2 535.8,99.4 527.9,104.3 526.1,104.9 525.2,104.8 520,102.6 517.3,101.8 513,100.8 509.5,100.3 506.8,100.3 500.7,100.7 491,102 484.9,102.2 472.7,101.8 467.4,100.3 463.8,99.8 461.2,100.1 457.7,101 453.2,101.8 449.8,102.1 446.3,101.9 432.3,100.4 426.1,100.4 423.5,100.7 419.1,101.6 415.6,102.5 411.2,104 409.5,104.3 407.8,103.5 400.7,98.5 395.4,95.8 391.9,94.6 389.3,93.9 386.7,93.5 383.2,93.2 379.7,93.3 377,93.6 371.8,95 369.1,96 366.4,97.4 363.6,99.2 361.4,100.9 358.7,103.5 355.9,107 353.8,110.6 352,114.9 351,118.5 350.4,122.8 350.5,127.2 351.1,131.6 352.4,136 354,139.5 356.1,143 358.9,146.5 362.1,149.6 365.6,152.2 369.1,154.1 373.5,155.8 376.1,156.6 379.7,157.2 382.3,157.5 385.8,157.5 389.3,157.2 392.8,156.5 396.3,155.5 398.9,154.5 403.3,152.4 406,150.7 408.6,148.7 411.2,146.4 413.9,143.7 420.4,136 421.7,135.1 423.5,134.7 425.3,134.7 436.7,136.3 441,136.5 447.2,136.6 459.5,135.9 463.8,135.9 468.2,136.4 476.1,137.8 480.5,138.2 484,138 487.5,137.5 499.2,135.1 504.2,134.6 505.9,134.8 507.9,136 517.3,145.8 520.9,148.8 525.2,151.9 528.7,153.9 533.1,155.8 537.5,157.2 541.1,157.9 M522.3,100 523.5,100 524.4,99.2 524.7,98.3 525,95.6 524.4,91.7 523.3,88.6 521.7,85.8 520,83.7 517.3,81.5 514.7,80.1 512.1,79.4 509.5,79.2 506.8,79.5 504.2,80.4 502.4,81.5 500.7,83 498.9,85.2 498,86.9 497.4,88.6 496.8,92.1 496.9,93.9 497.4,95.6 498,96.5 498.9,97.2 499.8,97.5 501.6,97.7 507.7,97.5 511.2,97.7 519.1,99.2 522.3,100.0 M411.3,99.2 412.1,99.8 413,99.9 423.5,98.1 426.1,97.9 430.5,97.7 435.8,98 438.4,97.9 440.3,97.4 441,96.9 441.6,96.5 442.2,95.6 442.9,93.9 443.2,91.3 443.2,88.6 442.9,86 442.2,83.4 441.4,81.6 440.2,79.4 438.4,77.2 435.8,75.1 433.2,73.7 430.5,73 427.9,72.7 424.4,73 420.9,74.2 418.2,75.8 415.6,78.1 413.9,80.3 412.1,83.4 411.2,86 410.3,89.8 410.1,93.9 410.6,97.4 411.3,99.2"/>
<path stroke="#3eba9a" d="M474.2,175.5 477,175.7 480.5,175.5 484,174.8 486.6,173.8 489.3,172.4 491.9,170.5 494.5,168 496.3,165.7 498,162.8 499.4,159.7 500.4,156.2 501,152.7 501.2,148.3 500.8,144.8 500.1,142.1 498.9,140.2 497.9,139.5 496.3,139.2 494.5,139.3 485.8,140.8 480.5,141.3 477.9,141.2 471.7,140.3 469.1,140.3 467,141.3 463,144.7 460.3,146.4 457.7,147.6 456,147.8 454.2,147.3 453.3,146.6 450.2,142.1 449.4,141.3 447.5,140.4 443.7,140.1 435.8,139.9 434,139.9 432.6,140.4 431.9,141.3 431.8,142.1 432.3,144.2 434,147.1 436.7,149.7 440.2,152.1 442.8,153.3 447.9,155.3 449.8,156.4 451.6,158.1 456,164.1 458.3,166.7 461,169.3 463.3,171.1 465.6,172.5 468.2,173.8 470.9,174.7 474.2,175.5 M536.1,152.7 539.3,153 541.9,153.1 547.2,152.6 549.8,152 552.4,151.2 555.1,150.1 557.7,148.6 560.3,146.8 562.1,145.3 564.3,143 565.7,141.3 568.3,136.9 569.4,134.2 570.2,131.6 570.7,129 570.9,126.3 570.9,123.7 570.6,121.1 570,118.5 569.2,115.8 567,111.4 565.1,108.8 563.5,107 561.6,105.3 559.4,103.7 555.1,101.3 552.4,100.4 549.8,99.8 547.2,99.5 544.5,99.4 541.9,99.6 539.3,100.1 534.9,101.5 527.9,104.9 526.1,105.4 525.2,105.3 520,103 517.3,102.1 513,101.1 508.6,100.6 499.8,101.1 491.9,102.3 488.4,102.6 476.1,102.9 470.9,102.7 466.5,101.4 464.7,101.2 462.1,101.3 456.8,102.3 450.7,102.6 447.2,102.4 432.3,100.8 427.9,100.7 423.5,101.1 420,101.8 415.6,102.9 411.2,104.5 409.5,104.8 407.7,104.2 401.6,100.5 398.9,99.2 396.3,98.3 393.7,97.5 391.1,97.1 387.5,96.9 384.9,97 380.5,97.8 376.7,99.2 373.3,100.9 369.7,103.5 366.4,107 364,110.6 362.3,114.1 361,118.5 360.6,121.1 360.5,123.7 360.6,126.3 360.9,129 361.6,131.6 362.5,134.2 363.7,136.9 365.3,139.5 367.4,142.1 369.1,143.9 371.1,145.6 373.5,147.4 376.1,148.9 378.8,150 381.4,150.9 384,151.5 388.4,152 393.7,151.7 398.9,150.6 403.3,148.9 406.8,147 410.3,144.5 413.9,141.4 419.1,135.8 420,135.1 421.9,134.2 424.4,134.1 434.9,135.7 441,136.2 447.2,136.2 459.5,135.5 463,135.5 467.7,136 476.1,137.5 480.5,137.8 486.6,137.3 499.8,134.7 505.1,134.1 506.8,134.4 508.6,135.4 517.3,143.6 520.9,146.3 523.5,148 526.1,149.4 529.6,150.9 533.1,152 536.1,152.7 M412.8,98.3 413.9,98.8 414.7,98.8 419.1,98.3 424.4,97.4 430.5,97.1 435.8,97 437.5,96.7 437.9,96.5 438.7,95.6 439,94.8 439.1,93 438.7,90.4 437.6,87.8 436.5,86 434.9,84.2 432.3,82.4 430.5,81.6 427.9,81 425.3,80.9 422.6,81.4 420,82.5 418.2,83.7 416.5,85.3 414.7,87.8 413.4,90.4 412.4,93.9 412.2,96.5 412.3,97.4 412.8,98.3 M517.8,98.3 521.7,98.7 522.6,98.3 523,97.4 522.8,95.6 521.7,92.8 520,90.1 518.6,88.6 517.3,87.6 514.7,86.2 513,85.8 510.3,85.6 508.6,85.9 506.8,86.6 505.1,87.6 503.3,89.3 502,91.3 501.3,93 501.1,94.8 501.4,95.6 502.4,96.2 503.9,96.5 511.2,97.1 517.8,98.3"/>
<path stroke="#f9fb0e" d="M481,153.5 483.1,153.5 484.9,153 486.6,152.2 488.5,150.9 490.2,149.3 491.4,147.4 492,145.6 492.1,144.8 491.9,143.9 491,143.2 489.3,143 484.9,143.3 480.5,143.9 476.1,143.9 475.2,144.1 474.4,144.6 473.9,145.6 473.8,147.4 474.4,149.1 475.2,150.6 476.5,151.8 477.9,152.7 479.6,153.3 481,153.5 M528,143 532.3,143.5 535.8,143.3 540.1,142.4 543.7,140.8 546.9,138.6 549.6,136 552,132.5 553.4,129 554.1,125.5 554.2,123.7 554.1,121.1 553.3,117.6 551.7,114.1 550.5,112.3 549,110.6 546.3,108.3 542.8,106.5 539.3,105.6 536.6,105.3 534,105.4 531.4,105.9 527.9,106.8 526.1,107 525.2,106.8 520.9,104.7 517.3,103.3 512.1,102.1 507.7,101.7 500.7,102.1 491,103.5 480.8,104.4 473.5,104.6 469.1,104.5 463.8,104.1 458.6,104.3 455.1,104.2 447.7,103.5 434.9,102 430.5,101.7 427.9,101.7 423.5,102.2 419.1,103.1 415.6,104.1 410.3,106.2 409.5,106.3 407.7,105.9 403.3,104.3 400.7,103.6 398.1,103.2 394.6,103.1 391.1,103.8 388.4,104.7 385.7,106.2 383.2,108.2 381,110.6 379.3,113.2 378.2,115.8 377.3,119.3 377.2,123.7 377.8,127.2 379.1,130.7 381.3,134.2 384,137.1 387.5,139.5 391.1,141.1 394.6,141.9 398.1,142.2 400.7,142 403.3,141.6 406,140.8 410.3,138.7 413,137 417.9,133.4 420,132.6 423.5,132.8 430.5,134.1 438.4,135 446.3,135.2 460.3,134.4 463,134.5 468.2,135.1 476.1,136.5 480.5,136.7 486.6,136.3 501.3,133.4 506.8,132.6 508.6,132.8 510.3,133.4 517.3,138.4 521.7,140.9 525.2,142.3 528,143.0"/>
</g>
<g font-family="'Liberation Sans',sans-serif" font-size="9.3" fill="#000" stroke="#000" stroke-width="0.15" text-anchor="middle">
<g transform="translate(449.8,12.6) rotate(-3)"><rect x="-2.8" y="-3.6" width="5.6" height="7.2" fill="#fff" stroke="none"/><text y="3.2">4</text></g>
<g transform="translate(374.8,35.1) rotate(70)"><rect x="-2.8" y="-3.6" width="5.6" height="7.2" fill="#fff" stroke="none"/><text y="3.2">1</text></g>
<g transform="translate(407.7,35.6) rotate(-57)"><rect x="-2.8" y="-3.6" width="5.6" height="7.2" fill="#fff" stroke="none"/><text y="3.2">4</text></g>
<g transform="translate(357.7,48.5) rotate(36)"><rect x="-2.8" y="-3.6" width="5.6" height="7.2" fill="#fff" stroke="none"/><text y="3.2">1</text></g>
<g transform="translate(421.8,59.7) rotate(-24)"><rect x="-2.8" y="-3.6" width="5.6" height="7.2" fill="#fff" stroke="none"/><text y="3.2">8</text></g>
<g transform="translate(357.7,72.2) rotate(5)"><rect x="-2.8" y="-3.6" width="5.6" height="7.2" fill="#fff" stroke="none"/><text y="3.2">4</text></g>
<g transform="translate(396.9,81.6) rotate(61)"><rect x="-2.8" y="-3.6" width="5.6" height="7.2" fill="#fff" stroke="none"/><text y="3.2">1</text></g>
<g transform="translate(418.2,75.8) rotate(-36)"><rect x="-5.3" y="-3.6" width="10.6" height="7.2" fill="#fff" stroke="none"/><text y="3.2">12</text></g>
<g transform="translate(558.8,13.2) rotate(-80)"><rect x="-2.8" y="-3.6" width="5.6" height="7.2" fill="#fff" stroke="none"/><text y="3.2">1</text></g>
<g transform="translate(503.3,26.9) rotate(32)"><rect x="-2.8" y="-3.6" width="5.6" height="7.2" fill="#fff" stroke="none"/><text y="3.2">4</text></g>
<g transform="translate(567.3,53.3) rotate(-42)"><rect x="-2.8" y="-3.6" width="5.6" height="7.2" fill="#fff" stroke="none"/><text y="3.2">1</text></g>
<g transform="translate(532.1,81.6) rotate(-84)"><rect x="-2.8" y="-3.6" width="5.6" height="7.2" fill="#fff" stroke="none"/><text y="3.2">4</text></g>
<g transform="translate(535.4,86.0) rotate(-66)"><rect x="-2.8" y="-3.6" width="5.6" height="7.2" fill="#fff" stroke="none"/><text y="3.2">1</text></g>
<g transform="translate(552.4,80.9) rotate(-29)"><rect x="-2.8" y="-3.6" width="5.6" height="7.2" fill="#fff" stroke="none"/><text y="3.2">4</text></g>
<g transform="translate(360.4,88.8) rotate(-18)"><rect x="-2.8" y="-3.6" width="5.6" height="7.2" fill="#fff" stroke="none"/><text y="3.2">8</text></g>
<g transform="translate(391.1,97.1) rotate(6)"><rect x="-5.3" y="-3.6" width="10.6" height="7.2" fill="#fff" stroke="none"/><text y="3.2">16</text></g>
<g transform="translate(414.7,87.8) rotate(-59)"><rect x="-5.3" y="-3.6" width="10.6" height="7.2" fill="#fff" stroke="none"/><text y="3.2">16</text></g>
<g transform="translate(358.7,103.5) rotate(-48)"><rect x="-5.3" y="-3.6" width="10.6" height="7.2" fill="#fff" stroke="none"/><text y="3.2">12</text></g>
<g transform="translate(400.7,103.6) rotate(12)"><rect x="-5.3" y="-3.6" width="10.6" height="7.2" fill="#fff" stroke="none"/><text y="3.2">30</text></g>
<g transform="translate(362.5,134.2) rotate(68)"><rect x="-5.3" y="-3.6" width="10.6" height="7.2" fill="#fff" stroke="none"/><text y="3.2">16</text></g>
<g transform="translate(387.5,139.5) rotate(30)"><rect x="-5.3" y="-3.6" width="10.6" height="7.2" fill="#fff" stroke="none"/><text y="3.2">30</text></g>
<g transform="translate(410.3,138.7) rotate(-28)"><rect x="-5.3" y="-3.6" width="10.6" height="7.2" fill="#fff" stroke="none"/><text y="3.2">30</text></g>
<g transform="translate(398.9,150.6) rotate(-16)"><rect x="-5.3" y="-3.6" width="10.6" height="7.2" fill="#fff" stroke="none"/><text y="3.2">16</text></g>
<g transform="translate(411.2,146.4) rotate(-44)"><rect x="-5.3" y="-3.6" width="10.6" height="7.2" fill="#fff" stroke="none"/><text y="3.2">12</text></g>
<g transform="translate(369.1,154.1) rotate(25)"><rect x="-5.3" y="-3.6" width="10.6" height="7.2" fill="#fff" stroke="none"/><text y="3.2">12</text></g>
<g transform="translate(424.4,139.5) rotate(-70)"><rect x="-2.8" y="-3.6" width="5.6" height="7.2" fill="#fff" stroke="none"/><text y="3.2">4</text></g>
<g transform="translate(414.2,164.1) rotate(-69)"><rect x="-2.8" y="-3.6" width="5.6" height="7.2" fill="#fff" stroke="none"/><text y="3.2">1</text></g>
<g transform="translate(393.7,162.7) rotate(-24)"><rect x="-2.8" y="-3.6" width="5.6" height="7.2" fill="#fff" stroke="none"/><text y="3.2">8</text></g>
<g transform="translate(400.7,167.2) rotate(-42)"><rect x="-2.8" y="-3.6" width="5.6" height="7.2" fill="#fff" stroke="none"/><text y="3.2">4</text></g>
<g transform="translate(558.6,89.0) rotate(-0)"><rect x="-2.8" y="-3.6" width="5.6" height="7.2" fill="#fff" stroke="none"/><text y="3.2">8</text></g>
<g transform="translate(535.8,99.4) rotate(-28)"><rect x="-5.3" y="-3.6" width="10.6" height="7.2" fill="#fff" stroke="none"/><text y="3.2">12</text></g>
<g transform="translate(565.1,108.8) rotate(52)"><rect x="-5.3" y="-3.6" width="10.6" height="7.2" fill="#fff" stroke="none"/><text y="3.2">16</text></g>
<g transform="translate(572.6,105.0) rotate(48)"><rect x="-5.3" y="-3.6" width="10.6" height="7.2" fill="#fff" stroke="none"/><text y="3.2">12</text></g>
<g transform="translate(535.8,143.3) rotate(-8)"><rect x="-5.3" y="-3.6" width="10.6" height="7.2" fill="#fff" stroke="none"/><text y="3.2">30</text></g>
<g transform="translate(539.3,153.0) rotate(5)"><rect x="-5.3" y="-3.6" width="10.6" height="7.2" fill="#fff" stroke="none"/><text y="3.2">16</text></g>
<g transform="translate(541.1,157.9) rotate(6)"><rect x="-5.3" y="-3.6" width="10.6" height="7.2" fill="#fff" stroke="none"/><text y="3.2">12</text></g>
<g transform="translate(528.7,158.3) rotate(33)"><rect x="-2.8" y="-3.6" width="5.6" height="7.2" fill="#fff" stroke="none"/><text y="3.2">8</text></g>
<g transform="translate(571.7,164.3) rotate(-20)"><rect x="-2.8" y="-3.6" width="5.6" height="7.2" fill="#fff" stroke="none"/><text y="3.2">8</text></g>
<g transform="translate(521.7,92.8) rotate(63)"><rect x="-5.3" y="-3.6" width="10.6" height="7.2" fill="#fff" stroke="none"/><text y="3.2">16</text></g>
<g transform="translate(480.5,88.7) rotate(40)"><rect x="-2.8" y="-3.6" width="5.6" height="7.2" fill="#fff" stroke="none"/><text y="3.2">4</text></g>
<g transform="translate(486.6,98.2) rotate(24)"><rect x="-2.8" y="-3.6" width="5.6" height="7.2" fill="#fff" stroke="none"/><text y="3.2">1</text></g>
<g transform="translate(505.2,99.2) rotate(-10)"><rect x="-2.8" y="-3.6" width="5.6" height="7.2" fill="#fff" stroke="none"/><text y="3.2">1</text></g>
<g transform="translate(511.2,98.8) rotate(4)"><rect x="-2.8" y="-3.6" width="5.6" height="7.2" fill="#fff" stroke="none"/><text y="3.2">4</text></g>
<g transform="translate(449.8,178.2) rotate(44)"><rect x="-5.3" y="-3.6" width="10.6" height="7.2" fill="#fff" stroke="none"/><text y="3.2">12</text></g>
<g transform="translate(361.2,185.8) rotate(-7)"><rect x="-2.8" y="-3.6" width="5.6" height="7.2" fill="#fff" stroke="none"/><text y="3.2">4</text></g>
<g transform="translate(390.2,191.1) rotate(-47)"><rect x="-2.8" y="-3.6" width="5.6" height="7.2" fill="#fff" stroke="none"/><text y="3.2">1</text></g>
<g transform="translate(441.9,196.3) rotate(49)"><rect x="-2.8" y="-3.6" width="5.6" height="7.2" fill="#fff" stroke="none"/><text y="3.2">8</text></g>
<g transform="translate(389.3,222.8) rotate(-70)"><rect x="-2.8" y="-3.6" width="5.6" height="7.2" fill="#fff" stroke="none"/><text y="3.2">1</text></g>
<g transform="translate(470.9,174.7) rotate(16)"><rect x="-5.3" y="-3.6" width="10.6" height="7.2" fill="#fff" stroke="none"/><text y="3.2">16</text></g>
<g transform="translate(498.9,175.5) rotate(-57)"><rect x="-5.3" y="-3.6" width="10.6" height="7.2" fill="#fff" stroke="none"/><text y="3.2">12</text></g>
<g transform="translate(534.0,169.1) rotate(38)"><rect x="-2.8" y="-3.6" width="5.6" height="7.2" fill="#fff" stroke="none"/><text y="3.2">4</text></g>
<g transform="translate(531.4,175.9) rotate(50)"><rect x="-2.8" y="-3.6" width="5.6" height="7.2" fill="#fff" stroke="none"/><text y="3.2">1</text></g>
<g transform="translate(531.8,187.7) rotate(62)"><rect x="-2.8" y="-3.6" width="5.6" height="7.2" fill="#fff" stroke="none"/><text y="3.2">1</text></g>
<g transform="translate(571.7,184.9) rotate(7)"><rect x="-2.8" y="-3.6" width="5.6" height="7.2" fill="#fff" stroke="none"/><text y="3.2">4</text></g>
<g transform="translate(484.0,208.6) rotate(-18)"><rect x="-2.8" y="-3.6" width="5.6" height="7.2" fill="#fff" stroke="none"/><text y="3.2">8</text></g>
<g transform="translate(518.1,216.7) rotate(-75)"><rect x="-2.8" y="-3.6" width="5.6" height="7.2" fill="#fff" stroke="none"/><text y="3.2">4</text></g>
<g transform="translate(570.0,212.1) rotate(37)"><rect x="-2.8" y="-3.6" width="5.6" height="7.2" fill="#fff" stroke="none"/><text y="3.2">1</text></g>
</g>
<path d="M411,118.3 410.7,117 410.5,115.6 410.3,114.1 410.1,112.5 410,110.7 409.9,109.1 410,107.5 410.2,106.2 410.4,104.9 410.9,103.7 411.4,102.6 412,101.7 412.8,100.8 413.6,100 414.5,99.2 415.4,98.6 416.4,98 417.5,97.4 418.7,97 419.9,96.6 421.1,96.2 422.4,95.9 423.7,95.7 424.9,95.6 426.2,95.5 427.4,95.5 428.7,95.6 430,95.8 431.2,96 432.5,96.3 433.8,96.6 435,97 436.3,97.4 437.5,97.8 438.8,98.2 440.1,98.6 441.3,99.1 442.6,99.5 443.8,100 445.1,100.4 446.4,100.8 447.6,101.2 448.9,101.6 450.1,102 451.4,102.4 452.7,102.8 453.9,103.2 455.2,103.6 456.5,103.9 457.7,104.3 458.9,104.7 459.9,105 460.9,105.3 461.9,105.5 462.8,105.6 463.6,105.5 464.3,105.3 465,105.2 465.6,105.1 466.1,105.1 466.5,105.3 466.9,105.3 467.3,105.3 467.7,105.3 468.1,105.1 468.7,105 469.4,104.8 470.3,104.6 471.3,104.4 472.5,104.2 473.9,104 475.5,103.8 477.2,103.7 479,103.5 480.8,103.3 482.5,103.1 484.3,102.8 486,102.5 487.7,102.2 489.2,101.9 490.8,101.5 492.2,101.1 493.6,100.7 494.9,100.2 496.2,99.7 497.4,99.2 498.7,98.7 500,98.3 501.2,98 502.5,97.6 503.8,97.3 505,97 506.3,96.8 507.5,96.6 508.8,96.4 510.1,96.4 511.3,96.4 512.6,96.4 513.8,96.6 515.1,96.8 516.4,97 517.6,97.3 518.7,97.7 519.8,98.2 520.8,98.7 521.7,99.3 522.6,99.9 523.3,100.6 523.9,101.3 524.5,102.1 525,103 525.4,104 525.7,105 525.9,106.1 526,107.1 526.1,108.2 526,109.4 525.9,110.5 525.6,111.5 525.3,112.6 524.9,113.6 524.4,114.7 523.9,115.8 523.2,117 522.5,118.3 521.7,119.5 521,120.5 520.3,121.5 519.6,122.4 518.8,123.3 517.7,124.3 516.6,125.4 515.2,126.4 513.9,127.5 512.6,128.5 511.3,129.5 510.1,130.4 508.8,131.3 507.5,132.1 506.3,133 505,133.7 503.8,134.5 502.5,135.3 501.2,136 500,136.8 498.7,137.5 497.4,138.3 496.2,139 494.9,139.8 493.7,140.5 492.4,141.2 491.1,141.9 489.9,142.5 488.6,143.1 487.4,143.7 486.1,144.2 484.8,144.7 483.7,145.2 482.7,145.5 481.8,145.8 481,146 480.3,146.1 479.6,146.1 478.9,146 478.3,145.8 477.7,145.5 477,145.2 476.4,144.7 475.8,144.2 475.1,143.7 474.4,143.1 473.7,142.5 473,141.9 472.2,141.2 471.4,140.6 470.7,140 469.9,139.3 469.1,138.8 468.3,138.2 467.5,137.7 466.7,137.3 465.7,136.9 464.7,136.6 463.6,136.4 462.3,136.2 461,136.2 459.8,136.3 458.5,136.4 457.2,136.7 456,137 454.9,137.3 453.8,137.6 452.8,138 451.8,138.4 450.8,138.7 449.8,139.1 448.8,139.4 447.6,139.7 446.4,139.9 445,140 443.5,140 442,140 440.5,140 439,139.9 437.4,139.8 436,139.6 434.6,139.3 433.2,139 432,138.6 430.7,138.2 429.4,137.7 428.2,137.1 426.9,136.5 425.6,135.8 424.4,135 423.1,134 421.8,133 420.7,132 419.5,130.9 418.4,129.8 417.4,128.7 416.5,127.7 415.7,126.9 414.9,126.2 414.2,125.7 413.6,125 413,124.2 412.5,123.1 412,122 411.6,120.8 411.3,119.5Z" fill="#000" stroke="#000" stroke-width="1.4" stroke-linejoin="round"/>
<g mask="url(#mm)" opacity="0.5"><path d="M411,118.3 410.7,117 410.5,115.6 410.3,114.1 410.1,112.5 410,110.7 409.9,109.1 410,107.5 410.2,106.2 410.4,104.9 410.9,103.7 411.4,102.6 412,101.7 412.8,100.8 413.6,100 414.5,99.2 415.4,98.6 416.4,98 417.5,97.4 418.7,97 419.9,96.6 421.1,96.2 422.4,95.9 423.7,95.7 424.9,95.6 426.2,95.5 427.4,95.5 428.7,95.6 430,95.8 431.2,96 432.5,96.3 433.8,96.6 435,97 436.3,97.4 437.5,97.8 438.8,98.2 440.1,98.6 441.3,99.1 442.6,99.5 443.8,100 445.1,100.4 446.4,100.8 447.6,101.2 448.9,101.6 450.1,102 451.4,102.4 452.7,102.8 453.9,103.2 455.2,103.6 456.5,103.9 457.7,104.3 458.9,104.7 459.9,105 460.9,105.3 461.9,105.5 462.8,105.6 463.6,105.5 464.3,105.3 465,105.2 465.6,105.1 466.1,105.1 466.5,105.3 466.9,105.3 467.3,105.3 467.7,105.3 468.1,105.1 468.7,105 469.4,104.8 470.3,104.6 471.3,104.4 472.5,104.2 473.9,104 475.5,103.8 477.2,103.7 479,103.5 480.8,103.3 482.5,103.1 484.3,102.8 486,102.5 487.7,102.2 489.2,101.9 490.8,101.5 492.2,101.1 493.6,100.7 494.9,100.2 496.2,99.7 497.4,99.2 498.7,98.7 500,98.3 501.2,98 502.5,97.6 503.8,97.3 505,97 506.3,96.8 507.5,96.6 508.8,96.4 510.1,96.4 511.3,96.4 512.6,96.4 513.8,96.6 515.1,96.8 516.4,97 517.6,97.3 518.7,97.7 519.8,98.2 520.8,98.7 521.7,99.3 522.6,99.9 523.3,100.6 523.9,101.3 524.5,102.1 525,103 525.4,104 525.7,105 525.9,106.1 526,107.1 526.1,108.2 526,109.4 525.9,110.5 525.6,111.5 525.3,112.6 524.9,113.6 524.4,114.7 523.9,115.8 523.2,117 522.5,118.3 521.7,119.5 521,120.5 520.3,121.5 519.6,122.4 518.8,123.3 517.7,124.3 516.6,125.4 515.2,126.4 513.9,127.5 512.6,128.5 511.3,129.5 510.1,130.4 508.8,131.3 507.5,132.1 506.3,133 505,133.7 503.8,134.5 502.5,135.3 501.2,136 500,136.8 498.7,137.5 497.4,138.3 496.2,139 494.9,139.8 493.7,140.5 492.4,141.2 491.1,141.9 489.9,142.5 488.6,143.1 487.4,143.7 486.1,144.2 484.8,144.7 483.7,145.2 482.7,145.5 481.8,145.8 481,146 480.3,146.1 479.6,146.1 478.9,146 478.3,145.8 477.7,145.5 477,145.2 476.4,144.7 475.8,144.2 475.1,143.7 474.4,143.1 473.7,142.5 473,141.9 472.2,141.2 471.4,140.6 470.7,140 469.9,139.3 469.1,138.8 468.3,138.2 467.5,137.7 466.7,137.3 465.7,136.9 464.7,136.6 463.6,136.4 462.3,136.2 461,136.2 459.8,136.3 458.5,136.4 457.2,136.7 456,137 454.9,137.3 453.8,137.6 452.8,138 451.8,138.4 450.8,138.7 449.8,139.1 448.8,139.4 447.6,139.7 446.4,139.9 445,140 443.5,140 442,140 440.5,140 439,139.9 437.4,139.8 436,139.6 434.6,139.3 433.2,139 432,138.6 430.7,138.2 429.4,137.7 428.2,137.1 426.9,136.5 425.6,135.8 424.4,135 423.1,134 421.8,133 420.7,132 419.5,130.9 418.4,129.8 417.4,128.7 416.5,127.7 415.7,126.9 414.9,126.2 414.2,125.7 413.6,125 413,124.2 412.5,123.1 412,122 411.6,120.8 411.3,119.5Z" fill="#fff" filter="url(#sp)"/></g>
<path d="M464.6,66.8 l4.5,4.5 M464.6,71.3 l4.5,-4.5" stroke="#f6101a" stroke-width="2.0" fill="none"/>
<path d="M395.6,107.0 l4.5,4.5 M395.6,111.5 l4.5,-4.5" stroke="#f6101a" stroke-width="2.0" fill="none"/>
<path d="M532.5,104.0 l4.5,4.5 M532.5,108.5 l4.5,-4.5" stroke="#f6101a" stroke-width="2.0" fill="none"/>
<path d="M461.4,167.8 l4.5,4.5 M461.4,172.2 l4.5,-4.5" stroke="#f6101a" stroke-width="2.0" fill="none"/>
<path d="M353.3,5.7 V231.1" stroke="#b2b2b2" stroke-width="1.7" fill="none"/>
<path d="M353.3,6.3 H577.9" stroke="#b8b8b8" stroke-width="1.2" fill="none"/>
<path d="M353.3,230.6 H577.9" stroke="#bdbdbd" stroke-width="1.1" fill="none"/>
<path d="M577.9,6.3 V230.6" stroke="#c6c6c6" stroke-width="0.9" fill="none"/>
<path d="M353.3,223.7 h2.2 M577.9,223.7 h-2.2 M353.3,188.6 h2.2 M577.9,188.6 h-2.2 M353.3,153.5 h2.2 M577.9,153.5 h-2.2 M353.3,118.5 h2.2 M577.9,118.5 h-2.2 M353.3,83.4 h2.2 M577.9,83.4 h-2.2 M353.3,48.3 h2.2 M577.9,48.3 h-2.2 M353.3,13.2 h2.2 M577.9,13.2 h-2.2 M395.4,230.6 v-2.2 M395.4,6.3 v2.2 M465.6,230.6 v-2.2 M465.6,6.3 v2.2 M535.8,230.6 v-2.2 M535.8,6.3 v2.2" stroke="#9a9a9a" stroke-width="0.7" fill="none"/>
<g font-family="'Liberation Serif',serif" font-size="13.0" fill="#161616" stroke="#161616" stroke-width="0.15">
<text x="349.6" y="17.8" text-anchor="end">30</text>
<text x="349.6" y="52.9" text-anchor="end">20</text>
<text x="349.6" y="88.0" text-anchor="end">10</text>
<text x="349.6" y="123.0" text-anchor="end">0</text>
<text x="349.6" y="158.1" text-anchor="end">-10</text>
<text x="349.6" y="193.2" text-anchor="end">-20</text>
<text x="349.6" y="228.3" text-anchor="end">-30</text>
<text x="394.7" y="246.4" text-anchor="middle">-20</text>
<text x="465.6" y="246.4" text-anchor="middle">0</text>
<text x="535.8" y="246.4" text-anchor="middle">20</text>
<text x="464.9" y="262.3" text-anchor="middle" font-size="13.1"><tspan font-style="italic">x</tspan> / km</text>
<text transform="translate(327.7,119.5) rotate(-90) scale(1,0.7)" text-anchor="middle" font-size="13.3"><tspan font-style="italic">y</tspan> / km</text>
<rect x="584.3" y="6.2" width="12.4" height="225.2" fill="url(#par)" stroke="#555" stroke-width="0.4"/>
<text x="600" y="9.9" font-size="11.4">30</text>
<text x="600" y="48.7" font-size="11.4">25</text>
<text x="600" y="87.6" font-size="11.4">20</text>
<text x="600" y="126.4" font-size="11.4">15</text>
<text x="600" y="165.2" font-size="11.4">10</text>
<text x="600" y="204.0" font-size="11.4">5</text>
<path d="M596.7,45.0 h-2 M596.7,83.9 h-2 M596.7,122.7 h-2 M596.7,161.5 h-2 M596.7,200.3 h-2" stroke="#444" stroke-width="0.6" fill="none"/>
<text transform="translate(623.0,118.6) rotate(-90) scale(1,0.94)" text-anchor="middle" font-size="11.07">Percent error of the acceleration</text>
</g>
<g font-family="'Liberation Serif',serif" font-size="16.4" fill="#0c0c0c" stroke="#0c0c0c" stroke-width="0.22" text-anchor="middle">
<text x="146.5" y="309.5">(a). Equilibria and zero-velocity curves in</text>
<text x="146.4" y="333">the equatorial plane of 433 Eros</text>
<text x="471.9" y="309.5">(b). Percent error on gravitational acceleration</text>
<text x="471.6" y="333">of Elipe’s segment relative to the polyhedron</text>
</g>
</svg>
</body></html>
